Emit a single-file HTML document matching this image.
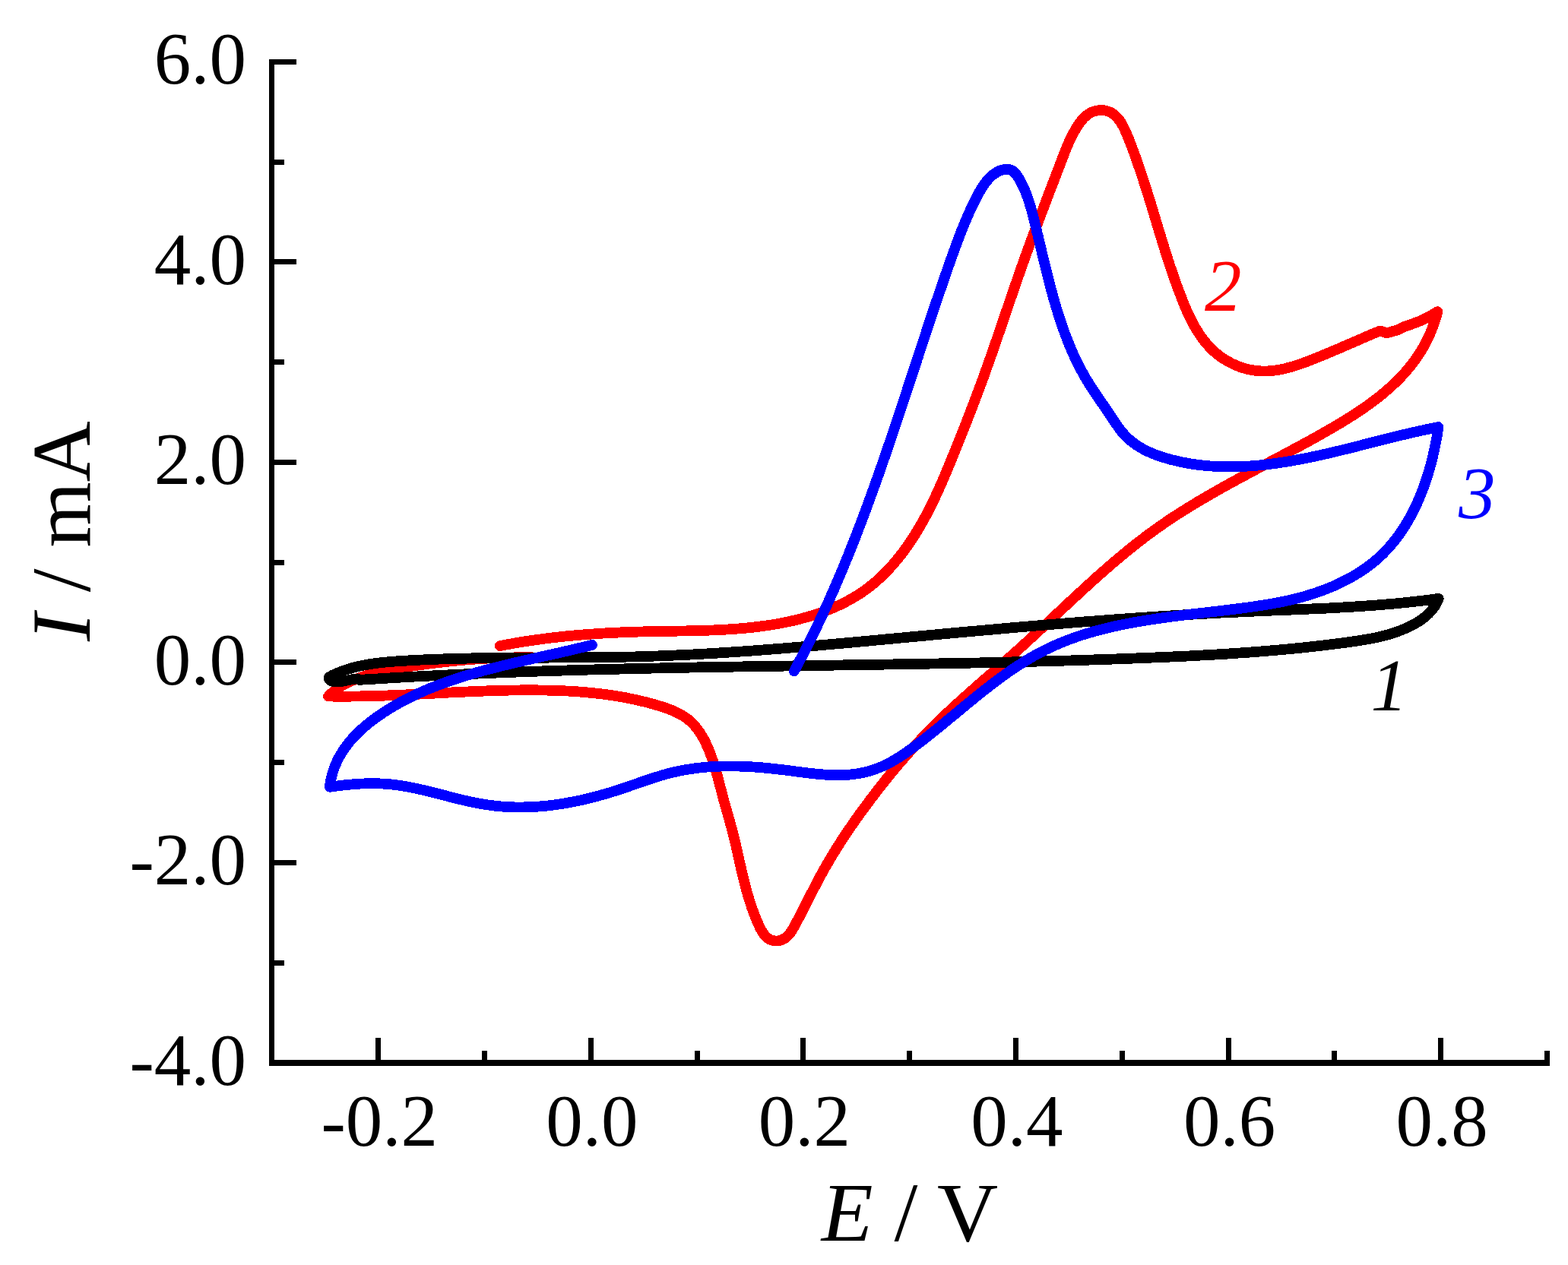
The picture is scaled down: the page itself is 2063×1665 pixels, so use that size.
<!DOCTYPE html>
<html lang="en">
<head>
<meta charset="utf-8">
<title>Cyclic voltammograms</title>
<style>
html,body{margin:0;padding:0;background:#fff;}
body{width:2063px;height:1665px;overflow:hidden;}
svg{display:block;}
text{font-family:"Liberation Serif","DejaVu Serif",serif;fill:#000;}
.tick{font-size:97px;}
.title{font-size:111px;}
.lab{font-size:97px;font-style:italic;}
.curve{fill:none;stroke-linecap:round;stroke-linejoin:round;}
</style>
</head>
<body>
<svg width="2063" height="1665" viewBox="0 0 2063 1665">
<rect x="0" y="0" width="2063" height="1665" fill="#ffffff"/>

<g class="curve" shape-rendering="crispEdges">
<path stroke="#ff0000" stroke-width="13.8" d="M657.8 850.1 C658.8 849.9 661.7 849.3 663.7 849.0 C665.7 848.6 667.7 848.2 669.6 847.9 C671.6 847.5 673.6 847.2 675.6 846.8 C677.5 846.5 679.5 846.1 681.5 845.8 C683.5 845.5 685.4 845.2 687.4 844.8 C689.4 844.5 691.4 844.2 693.4 843.9 C695.3 843.6 697.3 843.3 699.3 843.0 C701.3 842.7 703.3 842.5 705.2 842.2 C707.2 841.9 709.2 841.6 711.2 841.4 C713.2 841.1 715.2 840.8 717.1 840.6 C719.1 840.3 721.1 840.1 723.1 839.8 C725.1 839.6 727.1 839.4 729.0 839.1 C731.0 838.9 733.0 838.7 735.0 838.5 C737.0 838.3 739.0 838.0 741.0 837.8 C743.0 837.6 744.9 837.4 746.9 837.2 C748.9 837.0 750.9 836.8 752.9 836.7 C754.9 836.5 756.9 836.3 758.9 836.1 C760.9 835.9 762.8 835.8 764.8 835.6 C766.8 835.4 768.8 835.3 770.8 835.1 C772.8 835.0 774.8 834.8 776.8 834.7 C778.8 834.5 780.8 834.4 782.8 834.3 C784.8 834.1 786.8 834.0 788.8 833.9 C790.8 833.7 792.7 833.6 794.7 833.5 C796.7 833.4 798.7 833.3 800.7 833.2 C802.7 833.1 804.7 833.0 806.7 832.9 C808.7 832.8 810.7 832.7 812.7 832.6 C814.7 832.5 816.7 832.4 818.7 832.3 C820.7 832.2 822.7 832.1 824.7 832.1 C826.7 832.0 828.7 831.9 830.7 831.9 C832.7 831.8 834.7 831.7 836.7 831.7 C838.7 831.6 840.7 831.5 842.7 831.5 C844.7 831.4 846.7 831.4 848.7 831.3 C850.7 831.3 852.7 831.2 854.7 831.2 C856.7 831.2 858.7 831.1 860.7 831.1 C862.7 831.0 864.7 831.0 866.8 831.0 C868.8 830.9 870.8 830.9 872.8 830.9 C874.8 830.9 876.8 830.8 878.8 830.8 C880.8 830.8 882.8 830.7 884.8 830.7 C886.8 830.7 888.8 830.6 890.8 830.6 C892.8 830.6 894.8 830.5 896.8 830.5 C898.8 830.5 900.8 830.4 902.8 830.4 C904.8 830.4 906.8 830.3 908.8 830.3 C910.8 830.3 912.8 830.2 914.8 830.2 C916.9 830.1 918.9 830.1 920.9 830.0 C922.9 830.0 924.9 829.9 926.9 829.8 C928.9 829.8 930.9 829.7 932.9 829.6 C934.9 829.6 936.9 829.5 938.9 829.4 C940.9 829.3 942.9 829.2 944.9 829.1 C946.9 829.0 948.9 828.9 950.9 828.8 C952.9 828.7 954.9 828.6 956.9 828.5 C958.8 828.4 960.8 828.3 962.8 828.1 C964.8 828.0 966.8 827.8 968.8 827.7 C970.8 827.5 972.8 827.4 974.8 827.2 C976.8 827.0 978.8 826.9 980.8 826.7 C982.8 826.5 984.7 826.3 986.7 826.1 C988.7 825.9 990.7 825.7 992.7 825.4 C994.7 825.2 996.7 825.0 998.7 824.7 C1000.6 824.5 1002.6 824.2 1004.6 823.9 C1006.6 823.7 1008.6 823.4 1010.5 823.1 C1012.5 822.8 1014.5 822.5 1016.5 822.2 C1018.5 821.8 1020.4 821.5 1022.4 821.2 C1024.4 820.8 1026.4 820.5 1028.3 820.1 C1030.3 819.7 1032.3 819.3 1034.2 818.9 C1036.2 818.5 1038.2 818.1 1040.1 817.7 C1042.1 817.2 1044.1 816.8 1046.0 816.3 C1048.0 815.8 1049.9 815.4 1051.9 814.9 C1053.8 814.4 1055.8 813.8 1057.7 813.3 C1059.6 812.8 1061.6 812.2 1063.5 811.7 C1065.4 811.1 1067.4 810.5 1069.3 809.9 C1071.2 809.3 1073.1 808.7 1075.0 808.1 C1076.9 807.4 1078.8 806.8 1080.7 806.1 C1082.6 805.4 1084.4 804.7 1086.3 804.0 C1088.2 803.3 1090.0 802.6 1091.9 801.8 C1093.7 801.1 1095.6 800.3 1097.4 799.5 C1099.2 798.7 1101.1 797.9 1102.9 797.1 C1104.7 796.2 1106.5 795.4 1108.2 794.5 C1110.0 793.6 1111.8 792.7 1113.5 791.8 C1115.3 790.9 1117.1 789.9 1118.8 788.9 C1120.5 788.0 1122.2 787.0 1123.9 786.0 C1125.6 785.0 1127.3 783.9 1129.0 782.9 C1130.7 781.8 1132.3 780.7 1134.0 779.6 C1135.6 778.5 1137.2 777.4 1138.8 776.2 C1140.4 775.0 1142.0 773.8 1143.6 772.6 C1145.2 771.4 1146.7 770.2 1148.3 768.9 C1149.8 767.7 1151.3 766.4 1152.8 765.1 C1154.3 763.8 1155.8 762.4 1157.3 761.1 C1158.7 759.7 1160.2 758.4 1161.6 757.0 C1163.1 755.6 1164.5 754.1 1165.9 752.7 C1167.3 751.3 1168.6 749.8 1170.0 748.3 C1171.4 746.9 1172.7 745.4 1174.1 743.9 C1175.4 742.4 1176.7 740.8 1178.0 739.3 C1179.3 737.8 1180.6 736.2 1181.9 734.6 C1183.1 733.1 1184.4 731.5 1185.6 729.9 C1186.8 728.3 1188.1 726.6 1189.3 725.0 C1190.5 723.4 1191.7 721.8 1192.8 720.1 C1194.0 718.5 1195.2 716.8 1196.3 715.1 C1197.4 713.5 1198.6 711.8 1199.7 710.1 C1200.8 708.4 1201.9 706.7 1203.0 705.0 C1204.0 703.3 1205.1 701.6 1206.1 699.9 C1207.2 698.1 1208.2 696.4 1209.2 694.7 C1210.3 693.0 1211.3 691.2 1212.3 689.5 C1213.3 687.7 1214.2 686.0 1215.2 684.2 C1216.2 682.5 1217.1 680.7 1218.1 679.0 C1219.0 677.2 1219.9 675.4 1220.9 673.7 C1221.8 671.9 1222.7 670.1 1223.6 668.3 C1224.5 666.5 1225.4 664.7 1226.2 663.0 C1227.1 661.2 1228.0 659.4 1228.8 657.6 C1229.7 655.8 1230.6 654.0 1231.4 652.2 C1232.2 650.4 1233.1 648.5 1233.9 646.7 C1234.7 644.9 1235.5 643.1 1236.3 641.3 C1237.2 639.5 1238.0 637.6 1238.8 635.8 C1239.6 634.0 1240.4 632.2 1241.1 630.3 C1241.9 628.5 1242.7 626.7 1243.5 624.8 C1244.3 623.0 1245.0 621.1 1245.8 619.3 C1246.6 617.5 1247.3 615.6 1248.1 613.8 C1248.9 611.9 1249.6 610.1 1250.4 608.3 C1251.1 606.4 1251.9 604.6 1252.6 602.7 C1253.4 600.9 1254.2 599.0 1254.9 597.2 C1255.7 595.3 1256.4 593.5 1257.2 591.6 C1257.9 589.8 1258.6 587.9 1259.4 586.1 C1260.1 584.2 1260.9 582.4 1261.6 580.5 C1262.4 578.7 1263.1 576.8 1263.9 574.9 C1264.6 573.1 1265.3 571.2 1266.1 569.4 C1266.8 567.5 1267.5 565.7 1268.3 563.8 C1269.0 561.9 1269.7 560.1 1270.5 558.2 C1271.2 556.4 1271.9 554.5 1272.7 552.6 C1273.4 550.8 1274.1 548.9 1274.8 547.0 C1275.6 545.2 1276.3 543.3 1277.0 541.5 C1277.7 539.6 1278.4 537.7 1279.2 535.8 C1279.9 534.0 1280.6 532.1 1281.3 530.2 C1282.0 528.4 1282.7 526.5 1283.4 524.6 C1284.1 522.8 1284.8 520.9 1285.5 519.0 C1286.2 517.1 1286.9 515.3 1287.6 513.4 C1288.3 511.5 1289.0 509.6 1289.7 507.7 C1290.4 505.9 1291.1 504.0 1291.8 502.1 C1292.5 500.2 1293.2 498.3 1293.9 496.5 C1294.6 494.6 1295.2 492.7 1295.9 490.8 C1296.6 488.9 1297.3 487.0 1298.0 485.1 C1298.6 483.3 1299.3 481.4 1300.0 479.5 C1300.7 477.6 1301.3 475.7 1302.0 473.8 C1302.7 471.9 1303.3 470.0 1304.0 468.1 C1304.7 466.2 1305.3 464.3 1306.0 462.4 C1306.6 460.5 1307.3 458.6 1308.0 456.8 C1308.6 454.9 1309.3 453.0 1309.9 451.1 C1310.6 449.2 1311.2 447.3 1311.9 445.4 C1312.5 443.5 1313.2 441.6 1313.8 439.7 C1314.5 437.8 1315.1 435.9 1315.8 434.0 C1316.4 432.1 1317.1 430.2 1317.7 428.3 C1318.4 426.4 1319.0 424.5 1319.7 422.6 C1320.3 420.7 1321.0 418.8 1321.6 416.9 C1322.3 415.0 1322.9 413.1 1323.5 411.2 C1324.2 409.3 1324.8 407.4 1325.5 405.5 C1326.1 403.6 1326.8 401.7 1327.4 399.8 C1328.1 397.9 1328.7 396.0 1329.4 394.1 C1330.0 392.2 1330.6 390.3 1331.3 388.4 C1331.9 386.5 1332.6 384.6 1333.2 382.7 C1333.9 380.8 1334.5 378.9 1335.2 377.1 C1335.8 375.2 1336.5 373.3 1337.2 371.4 C1337.8 369.5 1338.5 367.6 1339.1 365.7 C1339.8 363.8 1340.4 361.9 1341.1 360.1 C1341.8 358.2 1342.4 356.3 1343.1 354.4 C1343.7 352.5 1344.4 350.6 1345.1 348.8 C1345.7 346.9 1346.4 345.0 1347.1 343.1 C1347.7 341.2 1348.4 339.4 1349.1 337.5 C1349.8 335.6 1350.4 333.7 1351.1 331.9 C1351.8 330.0 1352.5 328.1 1353.2 326.3 C1353.8 324.4 1354.5 322.5 1355.2 320.6 C1355.9 318.8 1356.6 316.9 1357.3 315.0 C1358.0 313.2 1358.6 311.3 1359.3 309.4 C1360.0 307.6 1360.7 305.7 1361.4 303.9 C1362.1 302.0 1362.8 300.1 1363.5 298.3 C1364.2 296.4 1364.9 294.5 1365.6 292.7 C1366.3 290.8 1367.0 289.0 1367.7 287.1 C1368.4 285.2 1369.1 283.4 1369.8 281.5 C1370.5 279.6 1371.3 277.8 1372.0 275.9 C1372.7 274.0 1373.4 272.2 1374.1 270.3 C1374.8 268.5 1375.5 266.6 1376.2 264.7 C1376.9 262.9 1377.7 261.0 1378.4 259.1 C1379.1 257.3 1379.8 255.4 1380.5 253.5 C1381.2 251.7 1381.9 249.8 1382.7 247.9 C1383.4 246.0 1384.1 244.2 1384.8 242.3 C1385.5 240.4 1386.3 238.6 1387.0 236.7 C1387.7 234.8 1388.4 232.9 1389.1 231.0 C1389.9 229.2 1390.6 227.3 1391.3 225.4 C1392.0 223.5 1392.7 221.6 1393.5 219.7 C1394.2 217.9 1394.9 216.0 1395.6 214.1 C1396.4 212.2 1397.1 210.3 1397.8 208.4 C1398.5 206.5 1399.3 204.6 1400.0 202.7 C1400.7 200.8 1401.5 198.9 1402.2 197.0 C1403.0 195.2 1403.8 193.3 1404.6 191.4 C1405.4 189.5 1406.2 187.7 1407.0 185.8 C1407.9 183.9 1408.7 182.1 1409.7 180.3 C1410.6 178.4 1411.5 176.6 1412.5 174.8 C1413.5 173.0 1414.5 171.2 1415.6 169.4 C1416.6 167.7 1417.8 165.9 1418.9 164.2 C1420.1 162.4 1421.3 160.7 1422.6 159.1 C1423.9 157.5 1425.2 155.9 1426.7 154.5 C1428.1 153.1 1429.6 151.8 1431.2 150.7 C1432.8 149.5 1434.4 148.6 1436.1 147.8 C1437.9 147.0 1439.7 146.4 1441.5 145.9 C1443.3 145.5 1445.1 145.2 1446.9 145.1 C1448.7 145.0 1450.6 145.1 1452.4 145.3 C1454.1 145.5 1455.9 145.9 1457.6 146.5 C1459.3 147.0 1460.9 147.7 1462.4 148.6 C1463.9 149.5 1465.4 150.5 1466.7 151.6 C1468.1 152.8 1469.3 154.1 1470.5 155.5 C1471.7 156.9 1472.9 158.4 1474.0 160.0 C1475.0 161.6 1476.0 163.3 1477.0 165.1 C1478.0 166.8 1478.9 168.7 1479.8 170.6 C1480.7 172.4 1481.5 174.4 1482.4 176.3 C1483.2 178.3 1484.0 180.3 1484.8 182.2 C1485.6 184.2 1486.3 186.2 1487.1 188.2 C1487.9 190.2 1488.6 192.2 1489.4 194.1 C1490.1 196.1 1490.8 198.1 1491.6 200.0 C1492.3 202.0 1493.0 204.0 1493.7 205.9 C1494.4 207.9 1495.1 209.8 1495.8 211.8 C1496.5 213.7 1497.1 215.7 1497.8 217.6 C1498.5 219.6 1499.1 221.5 1499.8 223.4 C1500.5 225.4 1501.1 227.3 1501.7 229.2 C1502.4 231.2 1503.0 233.1 1503.7 235.0 C1504.3 236.9 1504.9 238.9 1505.5 240.8 C1506.1 242.7 1506.8 244.6 1507.4 246.5 C1508.0 248.4 1508.6 250.4 1509.2 252.3 C1509.8 254.2 1510.4 256.1 1511.0 258.0 C1511.6 259.9 1512.1 261.8 1512.7 263.7 C1513.3 265.6 1513.9 267.5 1514.5 269.4 C1515.1 271.3 1515.6 273.2 1516.2 275.1 C1516.8 277.0 1517.3 278.9 1517.9 280.8 C1518.5 282.6 1519.1 284.5 1519.6 286.4 C1520.2 288.3 1520.8 290.2 1521.3 292.1 C1521.9 294.0 1522.5 295.9 1523.0 297.7 C1523.6 299.6 1524.2 301.5 1524.7 303.4 C1525.3 305.3 1525.9 307.2 1526.5 309.0 C1527.0 310.9 1527.6 312.8 1528.2 314.7 C1528.8 316.6 1529.3 318.4 1529.9 320.3 C1530.5 322.2 1531.1 324.1 1531.7 325.9 C1532.3 327.8 1532.8 329.7 1533.4 331.6 C1534.0 333.5 1534.6 335.3 1535.2 337.2 C1535.8 339.1 1536.4 341.0 1537.0 342.9 C1537.7 344.7 1538.3 346.6 1538.9 348.5 C1539.5 350.4 1540.1 352.3 1540.8 354.1 C1541.4 356.0 1542.1 357.9 1542.7 359.8 C1543.3 361.7 1544.0 363.6 1544.7 365.4 C1545.3 367.3 1546.0 369.2 1546.7 371.1 C1547.3 373.0 1548.0 374.9 1548.7 376.8 C1549.4 378.7 1550.1 380.6 1550.8 382.5 C1551.5 384.3 1552.2 386.2 1553.0 388.1 C1553.7 390.0 1554.4 391.9 1555.2 393.8 C1555.9 395.7 1556.7 397.6 1557.5 399.5 C1558.2 401.4 1559.0 403.3 1559.8 405.2 C1560.6 407.1 1561.4 408.9 1562.3 410.8 C1563.1 412.6 1564.0 414.5 1564.9 416.3 C1565.7 418.2 1566.6 420.0 1567.6 421.8 C1568.5 423.6 1569.4 425.4 1570.4 427.2 C1571.4 429.0 1572.4 430.7 1573.4 432.5 C1574.4 434.2 1575.5 435.9 1576.6 437.6 C1577.6 439.3 1578.8 440.9 1579.9 442.6 C1581.0 444.2 1582.2 445.8 1583.4 447.4 C1584.6 449.0 1585.9 450.5 1587.2 452.0 C1588.4 453.5 1589.8 455.0 1591.1 456.5 C1592.5 457.9 1593.9 459.3 1595.3 460.7 C1596.7 462.0 1598.2 463.4 1599.7 464.7 C1601.2 465.9 1602.8 467.2 1604.4 468.4 C1606.0 469.6 1607.7 470.7 1609.3 471.8 C1611.0 473.0 1612.7 474.0 1614.5 475.0 C1616.2 476.0 1618.0 477.0 1619.8 477.9 C1621.6 478.8 1623.4 479.7 1625.3 480.5 C1627.1 481.3 1629.0 482.0 1630.9 482.7 C1632.8 483.4 1634.7 484.0 1636.6 484.6 C1638.6 485.2 1640.5 485.7 1642.5 486.2 C1644.4 486.6 1646.4 487.0 1648.3 487.3 C1650.3 487.7 1652.3 487.9 1654.2 488.1 C1656.2 488.3 1658.2 488.4 1660.1 488.5 C1662.1 488.6 1664.1 488.6 1666.0 488.5 C1668.0 488.5 1670.0 488.3 1671.9 488.2 C1673.9 488.0 1675.8 487.8 1677.8 487.5 C1679.7 487.3 1681.7 486.9 1683.6 486.6 C1685.6 486.2 1687.5 485.8 1689.5 485.4 C1691.4 484.9 1693.4 484.4 1695.3 483.9 C1697.2 483.4 1699.2 482.8 1701.1 482.3 C1703.0 481.7 1705.0 481.1 1706.9 480.4 C1708.8 479.8 1710.7 479.1 1712.6 478.5 C1714.5 477.8 1716.4 477.1 1718.3 476.4 C1720.2 475.7 1722.1 474.9 1724.0 474.2 C1725.9 473.5 1727.8 472.7 1729.6 472.0 C1731.5 471.2 1733.4 470.5 1735.2 469.7 C1737.1 469.0 1739.0 468.2 1740.8 467.4 C1742.7 466.7 1744.5 465.9 1746.3 465.2 C1748.2 464.4 1750.0 463.6 1751.8 462.8 C1753.7 462.1 1755.5 461.3 1757.3 460.5 C1759.2 459.7 1761.0 459.0 1762.8 458.2 C1764.6 457.4 1766.5 456.6 1768.3 455.8 C1770.1 455.0 1771.9 454.3 1773.7 453.5 C1775.6 452.7 1777.4 451.9 1779.2 451.1 C1781.0 450.3 1782.9 449.5 1784.7 448.7 C1786.5 447.9 1788.3 447.1 1790.2 446.3 C1792.0 445.5 1793.8 444.7 1795.7 443.9 C1797.5 443.1 1799.4 442.3 1801.2 441.5 C1803.1 440.7 1805.9 439.5 1806.8 439.1 C1808.3 438.5 1814.2 436.1 1815.7 435.5 C1817.2 436.0 1823.0 437.8 1824.5 438.3 C1827.1 437.6 1837.4 434.7 1840.0 434.0 C1841.0 433.4 1840.8 432.8 1846.0 430.7 C1851.2 428.6 1863.6 424.7 1871.2 421.3 C1878.8 417.9 1888.0 412.1 1891.4 410.2 C1891.1 411.2 1890.3 414.4 1889.7 416.4 C1889.1 418.5 1888.5 420.5 1887.9 422.5 C1887.2 424.5 1886.5 426.5 1885.8 428.4 C1885.1 430.4 1884.4 432.3 1883.6 434.2 C1882.9 436.1 1882.1 438.0 1881.2 439.9 C1880.4 441.8 1879.6 443.6 1878.7 445.4 C1877.8 447.2 1876.9 449.0 1876.0 450.8 C1875.1 452.6 1874.1 454.3 1873.1 456.1 C1872.2 457.8 1871.2 459.5 1870.1 461.2 C1869.1 462.9 1868.1 464.5 1867.0 466.2 C1865.9 467.8 1864.8 469.5 1863.7 471.1 C1862.6 472.7 1861.4 474.3 1860.3 475.9 C1859.1 477.4 1857.9 479.0 1856.7 480.5 C1855.5 482.1 1854.3 483.6 1853.0 485.1 C1851.8 486.6 1850.5 488.1 1849.2 489.5 C1847.9 491.0 1846.6 492.4 1845.3 493.9 C1844.0 495.3 1842.6 496.7 1841.3 498.1 C1839.9 499.5 1838.5 500.9 1837.1 502.3 C1835.7 503.7 1834.3 505.0 1832.9 506.3 C1831.5 507.7 1830.0 509.0 1828.6 510.3 C1827.1 511.6 1825.6 512.9 1824.1 514.2 C1822.6 515.5 1821.1 516.8 1819.6 518.0 C1818.1 519.3 1816.6 520.5 1815.0 521.8 C1813.5 523.0 1811.9 524.2 1810.3 525.4 C1808.8 526.6 1807.2 527.8 1805.6 529.0 C1804.0 530.2 1802.4 531.4 1800.8 532.6 C1799.1 533.7 1797.5 534.9 1795.9 536.0 C1794.2 537.2 1792.6 538.3 1790.9 539.4 C1789.3 540.5 1787.6 541.7 1785.9 542.8 C1784.3 543.9 1782.6 545.0 1780.9 546.1 C1779.2 547.1 1777.5 548.2 1775.8 549.3 C1774.1 550.4 1772.4 551.4 1770.7 552.5 C1769.0 553.6 1767.2 554.6 1765.5 555.7 C1763.8 556.7 1762.0 557.7 1760.3 558.8 C1758.6 559.8 1756.8 560.8 1755.1 561.9 C1753.3 562.9 1751.6 563.9 1749.8 564.9 C1748.1 565.9 1746.3 566.9 1744.6 567.9 C1742.8 568.9 1741.1 569.9 1739.3 570.9 C1737.6 571.9 1735.8 572.9 1734.1 573.9 C1732.3 574.9 1730.5 575.9 1728.8 576.8 C1727.0 577.8 1725.2 578.8 1723.5 579.8 C1721.7 580.7 1719.9 581.7 1718.2 582.7 C1716.4 583.6 1714.6 584.6 1712.9 585.6 C1711.1 586.5 1709.3 587.5 1707.6 588.5 C1705.8 589.4 1704.0 590.4 1702.3 591.3 C1700.5 592.3 1698.7 593.2 1696.9 594.2 C1695.2 595.1 1693.4 596.1 1691.6 597.0 C1689.9 598.0 1688.1 598.9 1686.3 599.9 C1684.5 600.8 1682.8 601.7 1681.0 602.7 C1679.2 603.6 1677.5 604.6 1675.7 605.5 C1673.9 606.5 1672.1 607.4 1670.4 608.3 C1668.6 609.3 1666.8 610.2 1665.1 611.2 C1663.3 612.1 1661.5 613.0 1659.8 614.0 C1658.0 614.9 1656.2 615.9 1654.4 616.8 C1652.7 617.7 1650.9 618.7 1649.1 619.6 C1647.4 620.6 1645.6 621.5 1643.9 622.4 C1642.1 623.4 1640.3 624.3 1638.6 625.3 C1636.8 626.2 1635.1 627.2 1633.3 628.1 C1631.5 629.1 1629.8 630.0 1628.0 631.0 C1626.3 631.9 1624.5 632.9 1622.8 633.8 C1621.0 634.8 1619.3 635.8 1617.5 636.7 C1615.8 637.7 1614.0 638.6 1612.3 639.6 C1610.6 640.6 1608.8 641.6 1607.1 642.5 C1605.3 643.5 1603.6 644.5 1601.9 645.5 C1600.1 646.4 1598.4 647.4 1596.7 648.4 C1594.9 649.4 1593.2 650.4 1591.5 651.4 C1589.8 652.4 1588.1 653.4 1586.3 654.4 C1584.6 655.4 1582.9 656.4 1581.2 657.4 C1579.5 658.4 1577.8 659.4 1576.1 660.4 C1574.4 661.4 1572.7 662.5 1571.0 663.5 C1569.3 664.5 1567.6 665.6 1565.9 666.6 C1564.2 667.6 1562.5 668.7 1560.8 669.7 C1559.1 670.8 1557.4 671.8 1555.8 672.9 C1554.1 673.9 1552.4 675.0 1550.7 676.1 C1549.1 677.2 1547.4 678.2 1545.7 679.3 C1544.1 680.4 1542.4 681.5 1540.8 682.6 C1539.1 683.7 1537.5 684.8 1535.8 685.9 C1534.2 687.0 1532.5 688.1 1530.9 689.3 C1529.3 690.4 1527.6 691.5 1526.0 692.7 C1524.4 693.8 1522.8 695.0 1521.2 696.1 C1519.5 697.3 1517.9 698.4 1516.3 699.6 C1514.7 700.8 1513.1 701.9 1511.5 703.1 C1509.9 704.3 1508.3 705.5 1506.7 706.7 C1505.1 707.9 1503.6 709.1 1502.0 710.3 C1500.4 711.5 1498.8 712.8 1497.2 714.0 C1495.7 715.2 1494.1 716.4 1492.5 717.7 C1491.0 718.9 1489.4 720.2 1487.9 721.4 C1486.3 722.7 1484.8 723.9 1483.2 725.2 C1481.7 726.5 1480.1 727.7 1478.6 729.0 C1477.0 730.3 1475.5 731.5 1474.0 732.8 C1472.4 734.1 1470.9 735.4 1469.4 736.7 C1467.8 738.0 1466.3 739.3 1464.8 740.6 C1463.3 741.9 1461.7 743.2 1460.2 744.5 C1458.7 745.8 1457.2 747.1 1455.7 748.5 C1454.2 749.8 1452.7 751.1 1451.2 752.4 C1449.6 753.8 1448.1 755.1 1446.6 756.4 C1445.1 757.8 1443.6 759.1 1442.1 760.4 C1440.6 761.8 1439.1 763.1 1437.7 764.5 C1436.2 765.8 1434.7 767.2 1433.2 768.5 C1431.7 769.9 1430.2 771.2 1428.7 772.6 C1427.2 774.0 1425.7 775.3 1424.3 776.7 C1422.8 778.0 1421.3 779.4 1419.8 780.8 C1418.3 782.1 1416.9 783.5 1415.4 784.9 C1413.9 786.3 1412.4 787.6 1410.9 789.0 C1409.5 790.4 1408.0 791.7 1406.5 793.1 C1405.0 794.5 1403.6 795.9 1402.1 797.3 C1400.6 798.6 1399.2 800.0 1397.7 801.4 C1396.2 802.8 1394.7 804.1 1393.3 805.5 C1391.8 806.9 1390.3 808.3 1388.9 809.7 C1387.4 811.0 1385.9 812.4 1384.4 813.8 C1383.0 815.2 1381.5 816.6 1380.0 817.9 C1378.6 819.3 1377.1 820.7 1375.6 822.1 C1374.1 823.4 1372.7 824.8 1371.2 826.2 C1369.7 827.6 1368.3 828.9 1366.8 830.3 C1365.3 831.7 1363.8 833.0 1362.4 834.4 C1360.9 835.8 1359.4 837.1 1357.9 838.5 C1356.4 839.9 1355.0 841.2 1353.5 842.6 C1352.0 844.0 1350.5 845.3 1349.0 846.7 C1347.6 848.0 1346.1 849.4 1344.6 850.7 C1343.1 852.1 1341.6 853.4 1340.1 854.8 C1338.6 856.1 1337.2 857.5 1335.7 858.8 C1334.2 860.1 1332.7 861.5 1331.2 862.8 C1329.7 864.1 1328.2 865.5 1326.7 866.8 C1325.2 868.1 1323.7 869.4 1322.2 870.8 C1320.7 872.1 1319.2 873.4 1317.7 874.7 C1316.2 876.0 1314.7 877.4 1313.2 878.7 C1311.7 880.0 1310.2 881.3 1308.7 882.6 C1307.2 883.9 1305.7 885.2 1304.2 886.6 C1302.7 887.9 1301.2 889.2 1299.7 890.5 C1298.2 891.8 1296.7 893.1 1295.2 894.4 C1293.7 895.7 1292.2 897.1 1290.7 898.4 C1289.2 899.7 1287.7 901.0 1286.2 902.3 C1284.7 903.6 1283.2 904.9 1281.7 906.3 C1280.2 907.6 1278.7 908.9 1277.3 910.2 C1275.8 911.5 1274.3 912.9 1272.8 914.2 C1271.3 915.5 1269.8 916.8 1268.4 918.2 C1266.9 919.5 1265.4 920.8 1263.9 922.2 C1262.5 923.5 1261.0 924.8 1259.5 926.2 C1258.0 927.5 1256.6 928.9 1255.1 930.2 C1253.7 931.6 1252.2 932.9 1250.8 934.3 C1249.3 935.6 1247.8 937.0 1246.4 938.3 C1245.0 939.7 1243.5 941.1 1242.1 942.5 C1240.6 943.8 1239.2 945.2 1237.8 946.6 C1236.3 948.0 1234.9 949.4 1233.5 950.8 C1232.1 952.1 1230.7 953.5 1229.3 955.0 C1227.8 956.4 1226.4 957.8 1225.0 959.2 C1223.6 960.6 1222.2 962.0 1220.9 963.5 C1219.5 964.9 1218.1 966.3 1216.7 967.8 C1215.3 969.2 1214.0 970.7 1212.6 972.1 C1211.2 973.6 1209.8 975.0 1208.5 976.5 C1207.1 977.9 1205.8 979.4 1204.4 980.9 C1203.1 982.4 1201.7 983.8 1200.4 985.3 C1199.0 986.8 1197.7 988.3 1196.4 989.8 C1195.1 991.3 1193.7 992.8 1192.4 994.3 C1191.1 995.8 1189.8 997.3 1188.5 998.8 C1187.1 1000.3 1185.8 1001.8 1184.5 1003.4 C1183.2 1004.9 1181.9 1006.4 1180.6 1007.9 C1179.3 1009.5 1178.1 1011.0 1176.8 1012.5 C1175.5 1014.1 1174.2 1015.6 1172.9 1017.2 C1171.7 1018.7 1170.4 1020.3 1169.1 1021.8 C1167.9 1023.4 1166.6 1025.0 1165.3 1026.5 C1164.1 1028.1 1162.8 1029.7 1161.6 1031.2 C1160.3 1032.8 1159.1 1034.4 1157.8 1036.0 C1156.6 1037.6 1155.4 1039.1 1154.1 1040.7 C1152.9 1042.3 1151.7 1043.9 1150.5 1045.5 C1149.2 1047.1 1148.0 1048.7 1146.8 1050.3 C1145.6 1051.9 1144.4 1053.5 1143.2 1055.1 C1142.0 1056.7 1140.8 1058.3 1139.6 1060.0 C1138.4 1061.6 1137.2 1063.2 1136.0 1064.8 C1134.8 1066.4 1133.6 1068.1 1132.4 1069.7 C1131.3 1071.3 1130.1 1073.0 1128.9 1074.6 C1127.7 1076.2 1126.6 1077.9 1125.4 1079.5 C1124.3 1081.2 1123.1 1082.8 1122.0 1084.5 C1120.8 1086.1 1119.7 1087.8 1118.5 1089.4 C1117.4 1091.1 1116.3 1092.7 1115.2 1094.4 C1114.0 1096.0 1112.9 1097.7 1111.8 1099.4 C1110.7 1101.0 1109.6 1102.7 1108.5 1104.4 C1107.4 1106.1 1106.3 1107.7 1105.3 1109.4 C1104.2 1111.1 1103.1 1112.8 1102.0 1114.5 C1101.0 1116.2 1099.9 1117.8 1098.9 1119.5 C1097.8 1121.2 1096.8 1122.9 1095.7 1124.6 C1094.7 1126.3 1093.7 1128.0 1092.7 1129.7 C1091.7 1131.4 1090.7 1133.1 1089.7 1134.8 C1088.7 1136.6 1087.7 1138.3 1086.7 1140.0 C1085.7 1141.7 1084.8 1143.4 1083.8 1145.1 C1082.8 1146.9 1081.9 1148.6 1080.9 1150.3 C1080.0 1152.0 1079.1 1153.8 1078.1 1155.5 C1077.2 1157.2 1076.3 1159.0 1075.4 1160.7 C1074.5 1162.5 1073.5 1164.2 1072.6 1166.0 C1071.7 1167.7 1070.8 1169.5 1069.9 1171.2 C1069.0 1173.0 1068.1 1174.8 1067.2 1176.5 C1066.3 1178.3 1065.4 1180.1 1064.5 1181.9 C1063.6 1183.7 1062.7 1185.5 1061.8 1187.3 C1060.8 1189.1 1059.9 1190.9 1059.0 1192.7 C1058.1 1194.5 1057.1 1196.3 1056.2 1198.1 C1055.3 1200.0 1054.3 1201.8 1053.4 1203.6 C1052.4 1205.5 1051.4 1207.3 1050.4 1209.2 C1049.5 1211.0 1048.5 1212.9 1047.5 1214.8 C1046.5 1216.6 1045.5 1218.6 1044.4 1220.4 C1043.4 1222.2 1042.3 1224.1 1041.1 1225.8 C1040.0 1227.5 1038.8 1229.1 1037.5 1230.6 C1036.2 1232.0 1034.9 1233.4 1033.4 1234.5 C1031.9 1235.6 1030.3 1236.5 1028.6 1237.1 C1026.9 1237.8 1025.1 1238.2 1023.3 1238.4 C1021.5 1238.5 1019.6 1238.5 1017.9 1238.1 C1016.1 1237.8 1014.3 1237.2 1012.7 1236.4 C1011.1 1235.6 1009.6 1234.5 1008.3 1233.3 C1006.9 1232.0 1005.7 1230.5 1004.5 1228.9 C1003.4 1227.3 1002.3 1225.5 1001.3 1223.7 C1000.3 1221.9 999.4 1220.0 998.5 1218.0 C997.6 1216.1 996.8 1214.2 996.0 1212.2 C995.1 1210.3 994.3 1208.3 993.6 1206.4 C992.8 1204.5 992.1 1202.5 991.3 1200.6 C990.6 1198.7 989.9 1196.7 989.2 1194.8 C988.6 1192.9 987.9 1190.9 987.3 1189.0 C986.7 1187.1 986.1 1185.2 985.5 1183.2 C984.9 1181.3 984.3 1179.4 983.7 1177.5 C983.2 1175.5 982.6 1173.6 982.1 1171.7 C981.6 1169.8 981.1 1167.9 980.6 1165.9 C980.1 1164.0 979.6 1162.1 979.1 1160.2 C978.6 1158.3 978.2 1156.3 977.7 1154.4 C977.2 1152.5 976.8 1150.6 976.3 1148.7 C975.9 1146.7 975.4 1144.8 975.0 1142.9 C974.6 1141.0 974.1 1139.0 973.7 1137.1 C973.3 1135.2 972.8 1133.3 972.4 1131.3 C972.0 1129.4 971.6 1127.5 971.1 1125.6 C970.7 1123.6 970.3 1121.7 969.8 1119.8 C969.4 1117.8 969.0 1115.9 968.5 1114.0 C968.1 1112.0 967.6 1110.1 967.2 1108.2 C966.7 1106.2 966.2 1104.3 965.7 1102.3 C965.3 1100.4 964.8 1098.4 964.3 1096.5 C963.8 1094.5 963.3 1092.6 962.7 1090.6 C962.2 1088.7 961.7 1086.7 961.1 1084.8 C960.6 1082.8 960.1 1080.8 959.5 1078.9 C959.0 1076.9 958.4 1075.0 957.8 1073.0 C957.3 1071.1 956.7 1069.1 956.2 1067.1 C955.6 1065.2 955.1 1063.2 954.5 1061.3 C954.0 1059.4 953.4 1057.4 952.9 1055.5 C952.4 1053.5 951.8 1051.6 951.3 1049.7 C950.8 1047.8 950.3 1045.9 949.8 1043.9 C949.3 1042.0 948.8 1040.1 948.3 1038.2 C947.8 1036.3 947.3 1034.4 946.8 1032.5 C946.3 1030.6 945.8 1028.7 945.3 1026.8 C944.8 1024.9 944.3 1023.0 943.8 1021.1 C943.3 1019.2 942.8 1017.4 942.2 1015.5 C941.7 1013.6 941.1 1011.7 940.5 1009.8 C940.0 1007.8 939.4 1005.9 938.8 1004.0 C938.1 1002.1 937.5 1000.2 936.8 998.3 C936.2 996.4 935.5 994.4 934.7 992.5 C934.0 990.6 933.3 988.7 932.5 986.8 C931.7 984.9 930.9 983.0 930.0 981.1 C929.2 979.3 928.3 977.4 927.4 975.6 C926.5 973.8 925.5 972.0 924.5 970.2 C923.5 968.5 922.4 966.7 921.3 965.1 C920.2 963.4 919.1 961.7 917.9 960.1 C916.7 958.6 915.5 957.0 914.2 955.5 C912.9 954.0 911.6 952.6 910.2 951.2 C908.8 949.9 907.3 948.6 905.8 947.3 C904.3 946.1 902.8 945.0 901.1 943.9 C899.5 942.8 897.9 941.7 896.2 940.8 C894.5 939.8 892.7 938.9 890.9 938.0 C889.1 937.1 887.3 936.3 885.5 935.5 C883.6 934.7 881.7 934.0 879.8 933.3 C877.9 932.6 876.0 931.9 874.1 931.3 C872.2 930.6 870.2 930.0 868.3 929.4 C866.3 928.8 864.4 928.2 862.4 927.6 C860.5 927.1 858.5 926.5 856.6 926.0 C854.6 925.5 852.7 924.9 850.7 924.4 C848.8 923.9 846.8 923.4 844.9 923.0 C842.9 922.5 840.9 922.0 839.0 921.6 C837.0 921.1 835.0 920.7 833.1 920.3 C831.1 919.9 829.1 919.5 827.2 919.1 C825.2 918.7 823.2 918.3 821.3 917.9 C819.3 917.6 817.3 917.2 815.3 916.9 C813.4 916.5 811.4 916.2 809.4 915.9 C807.4 915.6 805.5 915.3 803.5 915.0 C801.5 914.7 799.5 914.4 797.5 914.2 C795.5 913.9 793.6 913.6 791.6 913.4 C789.6 913.1 787.6 912.9 785.6 912.7 C783.6 912.5 781.6 912.3 779.7 912.1 C777.7 911.9 775.7 911.7 773.7 911.5 C771.7 911.3 769.7 911.1 767.7 911.0 C765.7 910.8 763.7 910.6 761.7 910.5 C759.7 910.3 757.7 910.2 755.8 910.1 C753.8 910.0 751.8 909.8 749.8 909.7 C747.8 909.6 745.8 909.5 743.8 909.4 C741.8 909.3 739.8 909.2 737.8 909.1 C735.8 909.1 733.8 909.0 731.8 908.9 C729.8 908.8 727.8 908.8 725.8 908.7 C723.8 908.7 721.8 908.6 719.8 908.6 C717.8 908.5 715.8 908.5 713.8 908.5 C711.8 908.4 709.8 908.4 707.8 908.4 C705.8 908.4 703.8 908.3 701.8 908.3 C699.8 908.3 697.8 908.3 695.8 908.3 C693.9 908.3 691.9 908.3 689.9 908.3 C687.9 908.3 685.9 908.4 683.9 908.4 C681.9 908.4 679.9 908.4 677.9 908.4 C675.9 908.5 673.9 908.5 671.9 908.5 C669.9 908.6 667.9 908.6 665.9 908.7 C663.9 908.7 661.9 908.7 659.9 908.8 C657.9 908.9 655.9 908.9 653.9 909.0 C651.9 909.0 649.9 909.1 647.9 909.1 C645.9 909.2 643.9 909.3 641.9 909.3 C639.9 909.4 637.9 909.5 635.9 909.6 C633.9 909.6 631.9 909.7 629.9 909.8 C627.9 909.9 625.9 910.0 623.9 910.0 C621.9 910.1 619.9 910.2 617.9 910.3 C615.9 910.4 613.9 910.5 611.9 910.6 C609.9 910.7 607.9 910.8 605.9 910.9 C603.9 911.0 601.9 911.1 599.9 911.1 C597.9 911.2 595.9 911.3 593.9 911.4 C591.9 911.5 589.9 911.6 587.9 911.7 C585.9 911.8 583.9 911.9 581.9 912.0 C579.9 912.1 577.9 912.3 575.9 912.4 C573.9 912.5 571.9 912.6 569.9 912.7 C567.9 912.8 565.9 912.9 563.9 913.0 C561.9 913.1 559.9 913.2 557.9 913.3 C555.9 913.4 553.9 913.5 551.9 913.6 C549.9 913.7 547.9 913.8 545.9 913.9 C543.9 914.0 541.9 914.1 539.9 914.1 C537.9 914.2 535.9 914.3 533.9 914.4 C531.9 914.5 529.9 914.6 527.9 914.7 C525.9 914.8 523.9 914.9 521.9 915.0 C519.9 915.0 517.9 915.1 515.9 915.2 C513.9 915.3 511.9 915.4 509.9 915.4 C507.9 915.5 505.9 915.6 503.9 915.7 C501.9 915.7 499.9 915.8 497.9 915.9 C495.9 915.9 493.9 916.0 491.9 916.0 C489.9 916.1 487.9 916.1 485.9 916.2 C483.9 916.2 481.9 916.3 479.9 916.3 C477.9 916.4 475.9 916.4 473.9 916.4 C471.9 916.5 469.9 916.5 467.9 916.5 C465.9 916.6 463.9 916.6 461.9 916.6 C460.0 916.6 458.0 916.6 456.0 916.6 C454.0 916.7 452.0 916.7 450.0 916.7 C448.0 916.7 446.0 916.6 444.0 916.6 C442.0 916.6 440.0 916.6 438.0 916.6 C436.0 916.6 433.0 916.5 432.0 916.5 C432.7 915.8 434.9 913.6 436.4 912.3 C437.8 910.9 439.4 909.7 441.0 908.5 C442.5 907.3 444.2 906.2 445.8 905.1 C447.5 904.0 449.1 903.0 450.9 902.0 C452.6 901.0 454.3 900.1 456.1 899.2 C457.9 898.3 459.6 897.5 461.5 896.7 C463.3 895.9 465.1 895.1 466.9 894.3 C468.8 893.6 470.7 892.9 472.5 892.2 C474.4 891.5 476.3 890.9 478.2 890.3 C480.1 889.6 482.0 889.0 484.0 888.5 C485.9 887.9 487.8 887.3 489.8 886.8 C491.7 886.3 493.7 885.8 495.7 885.3 C497.6 884.8 499.6 884.4 501.6 883.9 C503.6 883.5 505.6 883.1 507.6 882.6 C509.6 882.2 511.6 881.8 513.6 881.5 C515.6 881.1 517.6 880.7 519.6 880.4 C521.6 880.0 523.6 879.7 525.6 879.3 C527.7 879.0 529.7 878.7 531.7 878.3 C533.7 878.0 535.7 877.7 537.7 877.4 C539.7 877.1 541.7 876.8 543.7 876.5 C545.8 876.2 547.8 875.9 549.8 875.6 C551.8 875.4 553.8 875.1 555.8 874.8 C557.8 874.5 559.8 874.3 561.8 874.0 C563.8 873.7 565.8 873.5 567.8 873.2 C569.8 873.0 571.7 872.7 573.7 872.5 C575.7 872.2 577.7 872.0 579.7 871.8 C581.7 871.6 583.7 871.3 585.7 871.1 C587.7 870.9 589.7 870.7 591.7 870.5 C593.7 870.3 595.6 870.1 597.6 869.9 C599.6 869.7 601.6 869.5 603.6 869.3 C605.6 869.1 607.6 869.0 609.6 868.8 C611.6 868.6 613.6 868.5 615.5 868.3 C617.5 868.1 619.5 868.0 621.5 867.8 C623.5 867.7 625.5 867.6 627.5 867.4 C629.5 867.3 631.5 867.2 633.5 867.0 C635.5 866.9 637.5 866.8 639.5 866.7 C641.5 866.6 643.5 866.5 645.5 866.4 C647.5 866.3 649.5 866.2 651.5 866.1 C653.5 866.0 655.5 865.9 657.5 865.9 C659.5 865.8 661.5 865.7 663.5 865.7 C665.5 865.6 667.5 865.6 669.6 865.5 C671.6 865.5 673.6 865.4 675.6 865.4 C677.6 865.4 679.7 865.3 681.7 865.3 C683.7 865.3 685.7 865.3 687.8 865.3 C689.8 865.3 691.8 865.3 693.9 865.3 C695.9 865.3 699.0 865.3 700.0 865.3"/>
<path stroke="#000000" stroke-width="13.8" d="M473.0 894.9 C472.6 894.7 471.9 893.6 470.5 893.4 C469.1 893.3 467.0 893.6 464.8 894.0 C462.6 894.3 459.9 895.0 457.2 895.5 C454.6 896.0 451.6 896.7 448.9 897.0 C446.2 897.4 443.4 897.7 441.1 897.5 C438.8 897.3 436.4 896.8 435.0 895.9 C433.6 895.1 432.3 893.4 432.5 892.3 C432.7 891.2 434.7 890.3 436.2 889.4 C437.6 888.5 439.6 887.7 441.4 886.9 C443.1 886.1 444.9 885.4 446.7 884.7 C448.5 883.9 450.3 883.3 452.1 882.6 C453.9 882.0 455.8 881.4 457.6 880.8 C459.5 880.2 461.4 879.7 463.2 879.2 C465.1 878.6 467.0 878.2 468.9 877.7 C470.8 877.2 472.7 876.8 474.7 876.4 C476.6 876.0 478.5 875.6 480.5 875.2 C482.4 874.9 484.4 874.5 486.3 874.2 C488.3 873.9 490.3 873.6 492.3 873.3 C494.2 873.1 496.2 872.8 498.2 872.6 C500.2 872.3 502.2 872.1 504.2 871.9 C506.2 871.7 508.3 871.5 510.3 871.3 C512.3 871.1 514.3 870.9 516.3 870.8 C518.4 870.6 520.4 870.5 522.4 870.3 C524.4 870.2 526.5 870.1 528.5 869.9 C530.5 869.8 532.6 869.7 534.6 869.6 C536.6 869.4 538.7 869.3 540.7 869.2 C542.7 869.1 544.7 869.0 546.8 868.9 C548.8 868.8 550.8 868.7 552.9 868.6 C554.9 868.5 556.9 868.4 558.9 868.3 C561.0 868.2 563.0 868.1 565.0 868.1 C567.0 868.0 569.1 867.9 571.1 867.8 C573.1 867.7 575.1 867.7 577.2 867.6 C579.2 867.5 581.2 867.4 583.2 867.4 C585.2 867.3 587.3 867.2 589.3 867.2 C591.3 867.1 593.3 867.1 595.4 867.0 C597.4 867.0 599.4 866.9 601.4 866.8 C603.4 866.8 605.4 866.7 607.5 866.7 C609.5 866.6 611.5 866.6 613.5 866.6 C615.5 866.5 617.5 866.5 619.6 866.4 C621.6 866.4 623.6 866.4 625.6 866.3 C627.6 866.3 629.6 866.3 631.7 866.2 C633.7 866.2 635.7 866.2 637.7 866.1 C639.7 866.1 641.7 866.1 643.7 866.1 C645.7 866.0 647.8 866.0 649.8 866.0 C651.8 866.0 653.8 865.9 655.8 865.9 C657.8 865.9 659.8 865.9 661.8 865.9 C663.8 865.8 665.9 865.8 667.9 865.8 C669.9 865.8 671.9 865.8 673.9 865.8 C675.9 865.8 677.9 865.7 679.9 865.7 C681.9 865.7 683.9 865.7 685.9 865.7 C687.9 865.7 690.0 865.7 692.0 865.7 C694.0 865.7 696.0 865.7 698.0 865.6 C700.0 865.6 702.0 865.6 704.0 865.6 C706.0 865.6 708.0 865.6 710.0 865.6 C712.0 865.6 714.0 865.6 716.0 865.6 C718.0 865.6 720.0 865.6 722.0 865.6 C724.0 865.6 726.1 865.5 728.1 865.5 C730.1 865.5 732.1 865.5 734.1 865.5 C736.1 865.5 738.1 865.5 740.1 865.5 C742.1 865.5 744.1 865.5 746.1 865.5 C748.1 865.5 750.1 865.5 752.1 865.4 C754.1 865.4 756.1 865.4 758.1 865.4 C760.1 865.4 762.1 865.4 764.1 865.4 C766.1 865.4 768.1 865.4 770.1 865.3 C772.1 865.3 774.1 865.3 776.1 865.3 C778.1 865.3 780.1 865.3 782.1 865.2 C784.1 865.2 786.1 865.2 788.1 865.2 C790.1 865.2 792.1 865.1 794.1 865.1 C796.1 865.1 798.1 865.1 800.1 865.0 C802.1 865.0 804.1 865.0 806.1 865.0 C808.1 864.9 810.1 864.9 812.1 864.9 C814.1 864.8 816.1 864.8 818.1 864.7 C820.1 864.7 822.1 864.7 824.1 864.6 C826.1 864.6 828.1 864.5 830.1 864.5 C832.1 864.4 834.1 864.4 836.1 864.4 C838.1 864.3 840.1 864.2 842.1 864.2 C844.1 864.1 846.1 864.1 848.1 864.0 C850.1 864.0 852.2 863.9 854.2 863.8 C856.2 863.8 858.2 863.7 860.2 863.6 C862.2 863.6 864.2 863.5 866.2 863.4 C868.2 863.3 870.2 863.3 872.2 863.2 C874.2 863.1 876.2 863.0 878.2 863.0 C880.2 862.9 882.2 862.8 884.2 862.7 C886.2 862.6 888.2 862.5 890.2 862.4 C892.2 862.4 894.2 862.3 896.2 862.2 C898.2 862.1 900.2 862.0 902.2 861.9 C904.2 861.8 906.2 861.7 908.2 861.6 C910.2 861.5 912.2 861.4 914.2 861.3 C916.2 861.2 918.2 861.1 920.2 860.9 C922.2 860.8 924.2 860.7 926.2 860.6 C928.2 860.5 930.2 860.4 932.2 860.3 C934.2 860.2 936.2 860.0 938.2 859.9 C940.2 859.8 942.2 859.7 944.2 859.6 C946.2 859.4 948.2 859.3 950.2 859.2 C952.2 859.1 954.2 858.9 956.2 858.8 C958.2 858.7 960.2 858.5 962.2 858.4 C964.2 858.3 966.2 858.1 968.2 858.0 C970.2 857.9 972.2 857.7 974.2 857.6 C976.2 857.5 978.3 857.3 980.3 857.2 C982.3 857.0 984.3 856.9 986.3 856.8 C988.3 856.6 990.3 856.5 992.3 856.3 C994.3 856.2 996.3 856.0 998.3 855.9 C1000.3 855.7 1002.3 855.6 1004.3 855.4 C1006.3 855.3 1008.3 855.1 1010.3 855.0 C1012.3 854.8 1014.3 854.7 1016.3 854.5 C1018.3 854.4 1020.3 854.2 1022.3 854.0 C1024.3 853.9 1026.3 853.7 1028.3 853.6 C1030.3 853.4 1032.3 853.2 1034.3 853.1 C1036.3 852.9 1038.3 852.7 1040.3 852.6 C1042.3 852.4 1044.3 852.3 1046.3 852.1 C1048.3 851.9 1050.3 851.8 1052.3 851.6 C1054.3 851.4 1056.3 851.2 1058.3 851.1 C1060.3 850.9 1062.3 850.7 1064.3 850.6 C1066.3 850.4 1068.3 850.2 1070.3 850.1 C1072.3 849.9 1074.3 849.7 1076.3 849.5 C1078.3 849.4 1080.3 849.2 1082.3 849.0 C1084.3 848.8 1086.4 848.7 1088.4 848.5 C1090.4 848.3 1092.4 848.1 1094.4 847.9 C1096.4 847.8 1098.4 847.6 1100.4 847.4 C1102.4 847.2 1104.4 847.0 1106.4 846.9 C1108.4 846.7 1110.4 846.5 1112.4 846.3 C1114.4 846.1 1116.4 846.0 1118.4 845.8 C1120.4 845.6 1122.4 845.4 1124.4 845.2 C1126.4 845.0 1128.4 844.9 1130.4 844.7 C1132.4 844.5 1134.4 844.3 1136.4 844.1 C1138.4 843.9 1140.4 843.8 1142.4 843.6 C1144.4 843.4 1146.4 843.2 1148.4 843.0 C1150.4 842.8 1152.4 842.6 1154.4 842.5 C1156.4 842.3 1158.4 842.1 1160.4 841.9 C1162.4 841.7 1164.4 841.5 1166.4 841.3 C1168.4 841.1 1170.4 841.0 1172.4 840.8 C1174.4 840.6 1176.4 840.4 1178.4 840.2 C1180.4 840.0 1182.4 839.8 1184.4 839.6 C1186.4 839.5 1188.4 839.3 1190.4 839.1 C1192.4 838.9 1194.4 838.7 1196.4 838.5 C1198.4 838.3 1200.4 838.2 1202.4 838.0 C1204.4 837.8 1206.4 837.6 1208.4 837.4 C1210.4 837.2 1212.4 837.0 1214.4 836.9 C1216.4 836.7 1218.4 836.5 1220.4 836.3 C1222.4 836.1 1224.4 835.9 1226.4 835.7 C1228.4 835.6 1230.4 835.4 1232.4 835.2 C1234.4 835.0 1236.4 834.8 1238.4 834.6 C1240.4 834.4 1242.4 834.3 1244.4 834.1 C1246.4 833.9 1248.4 833.7 1250.4 833.5 C1252.4 833.3 1254.4 833.2 1256.4 833.0 C1258.4 832.8 1260.4 832.6 1262.4 832.4 C1264.4 832.3 1266.4 832.1 1268.4 831.9 C1270.4 831.7 1272.4 831.5 1274.4 831.3 C1276.4 831.2 1278.4 831.0 1280.4 830.8 C1282.4 830.6 1284.4 830.4 1286.4 830.3 C1288.4 830.1 1290.4 829.9 1292.4 829.7 C1294.4 829.5 1296.4 829.4 1298.4 829.2 C1300.4 829.0 1302.4 828.8 1304.4 828.7 C1306.4 828.5 1308.4 828.3 1310.4 828.1 C1312.4 828.0 1314.4 827.8 1316.4 827.6 C1318.4 827.4 1320.4 827.2 1322.4 827.1 C1324.4 826.9 1326.4 826.7 1328.4 826.5 C1330.4 826.4 1332.4 826.2 1334.3 826.0 C1336.3 825.9 1338.3 825.7 1340.3 825.5 C1342.3 825.3 1344.3 825.2 1346.3 825.0 C1348.3 824.8 1350.3 824.7 1352.3 824.5 C1354.3 824.3 1356.3 824.1 1358.3 824.0 C1360.3 823.8 1362.3 823.6 1364.3 823.5 C1366.3 823.3 1368.3 823.1 1370.3 823.0 C1372.3 822.8 1374.3 822.6 1376.3 822.5 C1378.3 822.3 1380.3 822.1 1382.3 822.0 C1384.3 821.8 1386.3 821.6 1388.3 821.5 C1390.3 821.3 1392.3 821.1 1394.3 821.0 C1396.3 820.8 1398.3 820.7 1400.3 820.5 C1402.3 820.3 1404.3 820.2 1406.3 820.0 C1408.3 819.9 1410.3 819.7 1412.3 819.5 C1414.3 819.4 1416.3 819.2 1418.3 819.1 C1420.3 818.9 1422.3 818.7 1424.3 818.6 C1426.3 818.4 1428.3 818.3 1430.3 818.1 C1432.3 818.0 1434.3 817.8 1436.3 817.7 C1438.3 817.5 1440.3 817.4 1442.3 817.2 C1444.3 817.1 1446.3 816.9 1448.3 816.8 C1450.3 816.6 1452.3 816.5 1454.3 816.3 C1456.3 816.2 1458.3 816.0 1460.3 815.9 C1462.3 815.7 1464.3 815.6 1466.3 815.4 C1468.3 815.3 1470.3 815.1 1472.3 815.0 C1474.3 814.8 1476.3 814.7 1478.3 814.5 C1480.3 814.4 1482.3 814.3 1484.3 814.1 C1486.3 814.0 1488.3 813.8 1490.3 813.7 C1492.3 813.6 1494.3 813.4 1496.3 813.3 C1498.3 813.1 1500.3 813.0 1502.3 812.9 C1504.3 812.7 1506.3 812.6 1508.3 812.5 C1510.3 812.3 1512.3 812.2 1514.3 812.1 C1516.3 811.9 1518.3 811.8 1520.3 811.7 C1522.3 811.5 1524.3 811.4 1526.3 811.3 C1528.3 811.2 1530.3 811.0 1532.3 810.9 C1534.3 810.8 1536.3 810.6 1538.3 810.5 C1540.3 810.4 1542.3 810.3 1544.3 810.1 C1546.3 810.0 1548.3 809.9 1550.3 809.8 C1552.4 809.7 1554.4 809.5 1556.4 809.4 C1558.4 809.3 1560.4 809.2 1562.4 809.1 C1564.4 808.9 1566.4 808.8 1568.4 808.7 C1570.4 808.6 1572.4 808.5 1574.4 808.4 C1576.4 808.2 1578.4 808.1 1580.4 808.0 C1582.4 807.9 1584.4 807.8 1586.4 807.7 C1588.4 807.6 1590.4 807.5 1592.4 807.4 C1594.4 807.3 1596.4 807.2 1598.4 807.0 C1600.4 806.9 1602.4 806.8 1604.4 806.7 C1606.4 806.6 1608.4 806.5 1610.4 806.4 C1612.5 806.3 1614.5 806.2 1616.5 806.1 C1618.5 806.0 1620.5 805.9 1622.5 805.8 C1624.5 805.7 1626.5 805.6 1628.5 805.6 C1630.5 805.5 1632.5 805.4 1634.5 805.3 C1636.5 805.2 1638.5 805.1 1640.5 805.0 C1642.5 804.9 1644.5 804.8 1646.5 804.7 C1648.6 804.7 1650.6 804.6 1652.6 804.5 C1654.6 804.4 1656.6 804.3 1658.6 804.2 C1660.6 804.1 1662.6 804.1 1664.6 804.0 C1666.6 803.9 1668.6 803.8 1670.6 803.7 C1672.6 803.6 1674.6 803.6 1676.6 803.5 C1678.6 803.4 1680.7 803.3 1682.7 803.2 C1684.7 803.2 1686.7 803.1 1688.7 803.0 C1690.7 802.9 1692.7 802.8 1694.7 802.8 C1696.7 802.7 1698.7 802.6 1700.7 802.5 C1702.7 802.4 1704.7 802.3 1706.7 802.3 C1708.8 802.2 1710.8 802.1 1712.8 802.0 C1714.8 801.9 1716.8 801.8 1718.8 801.7 C1720.8 801.7 1722.8 801.6 1724.8 801.5 C1726.8 801.4 1728.8 801.3 1730.8 801.2 C1732.8 801.1 1734.8 801.0 1736.8 800.9 C1738.8 800.8 1740.9 800.7 1742.9 800.7 C1744.9 800.6 1746.9 800.5 1748.9 800.4 C1750.9 800.3 1752.9 800.2 1754.9 800.0 C1756.9 799.9 1758.9 799.8 1760.9 799.7 C1762.9 799.6 1764.9 799.5 1766.9 799.4 C1768.9 799.3 1770.9 799.2 1772.9 799.1 C1774.9 798.9 1776.9 798.8 1778.9 798.7 C1780.9 798.6 1783.0 798.5 1785.0 798.3 C1787.0 798.2 1789.0 798.1 1791.0 797.9 C1793.0 797.8 1795.0 797.7 1797.0 797.5 C1799.0 797.4 1801.0 797.3 1803.0 797.1 C1805.0 797.0 1807.0 796.8 1809.0 796.7 C1811.0 796.5 1813.0 796.4 1815.0 796.2 C1817.0 796.0 1819.0 795.9 1821.0 795.7 C1823.0 795.5 1825.0 795.4 1827.0 795.2 C1829.0 795.0 1831.0 794.9 1833.0 794.7 C1835.0 794.5 1837.0 794.3 1839.0 794.1 C1841.0 793.9 1843.0 793.7 1845.0 793.5 C1847.0 793.3 1849.0 793.1 1851.0 792.9 C1852.9 792.7 1854.9 792.5 1856.9 792.3 C1858.9 792.1 1860.9 791.9 1862.9 791.6 C1864.9 791.4 1866.9 791.2 1868.9 791.0 C1870.9 790.7 1872.9 790.5 1874.9 790.2 C1876.9 790.0 1878.9 789.7 1880.9 789.5 C1882.8 789.2 1884.8 789.0 1886.8 788.7 C1888.8 788.4 1891.8 788.0 1892.8 787.9 C1892.4 788.8 1891.3 791.5 1890.4 793.3 C1889.5 795.0 1888.5 796.7 1887.5 798.3 C1886.4 799.9 1885.2 801.4 1884.0 802.9 C1882.8 804.4 1881.4 805.8 1880.1 807.2 C1878.7 808.6 1877.2 809.9 1875.7 811.2 C1874.2 812.5 1872.6 813.7 1871.0 814.9 C1869.4 816.1 1867.7 817.2 1866.0 818.3 C1864.3 819.3 1862.6 820.4 1860.8 821.4 C1859.1 822.4 1857.3 823.3 1855.4 824.2 C1853.6 825.1 1851.8 826.0 1850.0 826.8 C1848.1 827.6 1846.3 828.4 1844.4 829.1 C1842.5 829.9 1840.7 830.6 1838.8 831.3 C1836.9 832.0 1835.0 832.6 1833.1 833.2 C1831.2 833.8 1829.3 834.4 1827.4 835.0 C1825.5 835.5 1823.5 836.0 1821.6 836.6 C1819.7 837.1 1817.7 837.5 1815.8 838.0 C1813.8 838.4 1811.9 838.9 1809.9 839.3 C1808.0 839.7 1806.0 840.1 1804.0 840.5 C1802.1 840.8 1800.1 841.2 1798.1 841.5 C1796.2 841.9 1794.2 842.2 1792.2 842.5 C1790.2 842.8 1788.2 843.2 1786.3 843.5 C1784.3 843.8 1782.3 844.0 1780.3 844.3 C1778.3 844.6 1776.3 844.9 1774.3 845.2 C1772.3 845.4 1770.4 845.7 1768.4 846.0 C1766.4 846.2 1764.4 846.5 1762.4 846.8 C1760.4 847.0 1758.4 847.3 1756.4 847.5 C1754.4 847.8 1752.5 848.0 1750.5 848.3 C1748.5 848.5 1746.5 848.8 1744.5 849.0 C1742.5 849.3 1740.5 849.5 1738.5 849.7 C1736.5 850.0 1734.5 850.2 1732.6 850.4 C1730.6 850.6 1728.6 850.9 1726.6 851.1 C1724.6 851.3 1722.6 851.5 1720.6 851.7 C1718.6 851.9 1716.6 852.2 1714.6 852.4 C1712.6 852.6 1710.6 852.8 1708.7 853.0 C1706.7 853.2 1704.7 853.4 1702.7 853.6 C1700.7 853.8 1698.7 854.0 1696.7 854.2 C1694.7 854.3 1692.7 854.5 1690.7 854.7 C1688.7 854.9 1686.7 855.1 1684.7 855.3 C1682.7 855.4 1680.7 855.6 1678.8 855.8 C1676.8 856.0 1674.8 856.1 1672.8 856.3 C1670.8 856.5 1668.8 856.6 1666.8 856.8 C1664.8 857.0 1662.8 857.1 1660.8 857.3 C1658.8 857.5 1656.8 857.6 1654.8 857.8 C1652.8 857.9 1650.8 858.1 1648.8 858.2 C1646.8 858.4 1644.8 858.5 1642.8 858.7 C1640.9 858.8 1638.9 858.9 1636.9 859.1 C1634.9 859.2 1632.9 859.4 1630.9 859.5 C1628.9 859.6 1626.9 859.8 1624.9 859.9 C1622.9 860.0 1620.9 860.2 1618.9 860.3 C1616.9 860.4 1614.9 860.6 1612.9 860.7 C1610.9 860.8 1608.9 860.9 1606.9 861.1 C1604.9 861.2 1602.9 861.3 1600.9 861.4 C1598.9 861.5 1596.9 861.6 1594.9 861.8 C1592.9 861.9 1590.9 862.0 1588.9 862.1 C1586.9 862.2 1584.9 862.3 1582.9 862.4 C1581.0 862.5 1579.0 862.6 1577.0 862.7 C1575.0 862.8 1573.0 863.0 1571.0 863.1 C1569.0 863.2 1567.0 863.3 1565.0 863.4 C1563.0 863.5 1561.0 863.6 1559.0 863.7 C1557.0 863.7 1555.0 863.8 1553.0 863.9 C1551.0 864.0 1549.0 864.1 1547.0 864.2 C1545.0 864.3 1543.0 864.4 1541.0 864.5 C1539.0 864.6 1537.0 864.7 1535.0 864.8 C1533.0 864.8 1531.0 864.9 1529.0 865.0 C1527.0 865.1 1525.0 865.2 1523.0 865.3 C1521.0 865.4 1519.0 865.4 1517.0 865.5 C1515.0 865.6 1513.0 865.7 1511.0 865.8 C1509.0 865.9 1507.0 865.9 1505.0 866.0 C1503.0 866.1 1501.0 866.2 1499.0 866.3 C1497.0 866.3 1495.0 866.4 1493.0 866.5 C1491.0 866.6 1489.0 866.6 1487.0 866.7 C1485.0 866.8 1483.0 866.9 1481.0 866.9 C1479.0 867.0 1477.0 867.1 1475.0 867.2 C1473.0 867.2 1471.0 867.3 1469.0 867.4 C1467.0 867.5 1465.0 867.5 1463.0 867.6 C1461.0 867.7 1459.0 867.7 1457.0 867.8 C1455.0 867.9 1453.0 867.9 1451.0 868.0 C1449.0 868.1 1447.0 868.1 1445.0 868.2 C1443.0 868.3 1441.0 868.3 1439.0 868.4 C1437.0 868.5 1435.0 868.5 1433.0 868.6 C1431.0 868.7 1429.0 868.7 1427.0 868.8 C1425.0 868.9 1423.0 868.9 1421.0 869.0 C1419.0 869.0 1417.0 869.1 1415.0 869.2 C1413.0 869.2 1411.0 869.3 1409.0 869.4 C1407.0 869.4 1405.0 869.5 1403.0 869.5 C1401.0 869.6 1399.0 869.6 1397.0 869.7 C1395.0 869.8 1393.0 869.8 1391.0 869.9 C1389.0 869.9 1387.0 870.0 1385.0 870.0 C1383.0 870.1 1381.0 870.2 1379.0 870.2 C1377.0 870.3 1375.0 870.3 1373.0 870.4 C1371.0 870.4 1369.0 870.5 1367.0 870.5 C1365.0 870.6 1363.0 870.6 1361.0 870.7 C1359.0 870.7 1357.0 870.8 1355.0 870.8 C1353.0 870.9 1351.0 870.9 1349.0 871.0 C1347.0 871.0 1345.0 871.1 1343.0 871.1 C1341.0 871.2 1339.0 871.2 1337.0 871.3 C1335.0 871.3 1333.0 871.4 1331.0 871.4 C1329.0 871.5 1327.0 871.5 1325.0 871.6 C1323.0 871.6 1321.0 871.7 1319.0 871.7 C1317.0 871.7 1315.0 871.8 1313.0 871.8 C1311.0 871.9 1309.0 871.9 1307.0 872.0 C1305.0 872.0 1303.0 872.1 1301.0 872.1 C1299.0 872.1 1297.0 872.2 1295.0 872.2 C1293.0 872.3 1291.0 872.3 1289.0 872.4 C1287.0 872.4 1285.0 872.4 1283.0 872.5 C1281.0 872.5 1279.0 872.6 1277.0 872.6 C1275.0 872.6 1273.0 872.7 1271.0 872.7 C1269.0 872.8 1267.0 872.8 1265.0 872.8 C1263.0 872.9 1261.0 872.9 1259.0 873.0 C1257.0 873.0 1255.0 873.0 1253.0 873.1 C1251.0 873.1 1249.0 873.1 1247.0 873.2 C1245.0 873.2 1243.0 873.3 1241.0 873.3 C1239.0 873.3 1237.0 873.4 1235.0 873.4 C1233.0 873.4 1231.0 873.5 1229.0 873.5 C1227.0 873.5 1225.0 873.6 1223.0 873.6 C1221.0 873.7 1219.0 873.7 1217.0 873.7 C1215.0 873.8 1213.0 873.8 1211.0 873.8 C1209.0 873.9 1207.0 873.9 1205.0 873.9 C1203.0 874.0 1201.0 874.0 1199.0 874.0 C1197.0 874.1 1195.0 874.1 1193.0 874.1 C1191.0 874.2 1189.0 874.2 1187.0 874.2 C1185.0 874.3 1183.0 874.3 1181.0 874.3 C1179.0 874.4 1177.0 874.4 1175.0 874.4 C1173.0 874.5 1171.0 874.5 1169.0 874.5 C1167.0 874.5 1165.0 874.6 1163.0 874.6 C1161.0 874.6 1159.0 874.7 1157.0 874.7 C1155.0 874.7 1153.0 874.8 1151.0 874.8 C1149.0 874.8 1147.0 874.9 1145.0 874.9 C1143.0 874.9 1141.0 874.9 1139.0 875.0 C1137.0 875.0 1135.0 875.0 1132.9 875.1 C1130.9 875.1 1128.9 875.1 1126.9 875.2 C1124.9 875.2 1122.9 875.2 1120.9 875.3 C1118.9 875.3 1116.9 875.3 1114.9 875.3 C1112.9 875.4 1110.9 875.4 1108.9 875.4 C1106.9 875.5 1104.9 875.5 1102.9 875.5 C1100.9 875.5 1098.9 875.6 1096.9 875.6 C1094.9 875.6 1092.9 875.7 1090.9 875.7 C1088.9 875.7 1086.9 875.8 1084.9 875.8 C1082.9 875.8 1080.9 875.8 1078.9 875.9 C1076.9 875.9 1074.9 875.9 1072.9 876.0 C1070.9 876.0 1068.9 876.0 1066.9 876.0 C1064.9 876.1 1062.9 876.1 1060.9 876.1 C1058.9 876.2 1056.9 876.2 1054.9 876.2 C1052.9 876.3 1050.9 876.3 1048.9 876.3 C1046.9 876.3 1044.9 876.4 1042.9 876.4 C1040.9 876.4 1038.9 876.5 1036.9 876.5 C1034.9 876.5 1032.9 876.5 1030.9 876.6 C1028.9 876.6 1026.9 876.6 1024.9 876.7 C1022.9 876.7 1020.9 876.7 1018.9 876.8 C1016.9 876.8 1014.9 876.8 1012.9 876.8 C1010.9 876.9 1008.9 876.9 1006.9 876.9 C1004.9 877.0 1002.9 877.0 1000.9 877.0 C998.9 877.1 996.9 877.1 994.9 877.1 C992.9 877.2 990.9 877.2 988.9 877.2 C986.9 877.2 984.9 877.3 982.9 877.3 C980.9 877.3 978.9 877.4 976.9 877.4 C974.9 877.4 972.9 877.5 970.9 877.5 C968.9 877.5 966.9 877.6 964.9 877.6 C962.9 877.6 960.9 877.7 958.9 877.7 C956.8 877.7 954.8 877.8 952.8 877.8 C950.8 877.8 948.8 877.9 946.8 877.9 C944.8 877.9 942.8 878.0 940.8 878.0 C938.8 878.0 936.8 878.1 934.8 878.1 C932.8 878.1 930.8 878.2 928.8 878.2 C926.8 878.2 924.8 878.3 922.8 878.3 C920.8 878.4 918.8 878.4 916.8 878.4 C914.8 878.5 912.8 878.5 910.8 878.5 C908.8 878.6 906.8 878.6 904.8 878.7 C902.8 878.7 900.8 878.7 898.8 878.8 C896.8 878.8 894.8 878.8 892.8 878.9 C890.8 878.9 888.8 879.0 886.8 879.0 C884.8 879.0 882.8 879.1 880.8 879.1 C878.8 879.2 876.8 879.2 874.8 879.2 C872.8 879.3 870.8 879.3 868.8 879.4 C866.8 879.4 864.8 879.4 862.8 879.5 C860.8 879.5 858.8 879.6 856.8 879.6 C854.8 879.7 852.8 879.7 850.8 879.7 C848.8 879.8 846.8 879.8 844.8 879.9 C842.8 879.9 840.8 880.0 838.8 880.0 C836.8 880.0 834.8 880.1 832.8 880.1 C830.8 880.2 828.8 880.2 826.8 880.3 C824.8 880.3 822.8 880.4 820.8 880.4 C818.8 880.5 816.8 880.5 814.8 880.6 C812.8 880.6 810.8 880.7 808.8 880.7 C806.8 880.8 804.8 880.8 802.8 880.9 C800.8 880.9 798.8 881.0 796.8 881.0 C794.8 881.1 792.8 881.1 790.8 881.2 C788.8 881.2 786.8 881.3 784.8 881.3 C782.8 881.4 780.8 881.4 778.8 881.5 C776.8 881.5 774.8 881.6 772.8 881.6 C770.8 881.7 768.8 881.8 766.8 881.8 C764.8 881.9 762.8 881.9 760.8 882.0 C758.8 882.0 756.8 882.1 754.8 882.2 C752.8 882.2 750.8 882.3 748.8 882.3 C746.8 882.4 744.8 882.4 742.8 882.5 C740.8 882.6 738.8 882.6 736.8 882.7 C734.8 882.7 732.8 882.8 730.8 882.9 C728.8 882.9 726.8 883.0 724.8 883.1 C722.8 883.1 720.8 883.2 718.8 883.3 C716.8 883.3 714.8 883.4 712.8 883.4 C710.8 883.5 708.8 883.6 706.8 883.6 C704.8 883.7 702.8 883.8 700.8 883.9 C698.8 883.9 696.8 884.0 694.8 884.1 C692.8 884.1 690.8 884.2 688.8 884.3 C686.8 884.3 684.8 884.4 682.8 884.5 C680.8 884.6 678.8 884.6 676.8 884.7 C674.8 884.8 672.8 884.9 670.8 884.9 C668.8 885.0 666.8 885.1 664.8 885.2 C662.8 885.2 660.8 885.3 658.8 885.4 C656.8 885.5 654.8 885.5 652.8 885.6 C650.8 885.7 648.8 885.8 646.8 885.9 C644.8 885.9 642.8 886.0 640.8 886.1 C638.8 886.2 636.8 886.3 634.8 886.3 C632.8 886.4 630.8 886.5 628.8 886.6 C626.8 886.7 624.8 886.8 622.8 886.9 C620.8 886.9 618.8 887.0 616.8 887.1 C614.8 887.2 612.8 887.3 610.8 887.4 C608.8 887.5 606.8 887.6 604.8 887.7 C602.8 887.7 600.9 887.8 598.9 887.9 C596.9 888.0 594.9 888.1 592.9 888.2 C590.9 888.3 588.9 888.4 586.9 888.5 C584.9 888.6 582.9 888.7 580.9 888.8 C578.9 888.9 576.9 889.0 574.9 889.1 C572.9 889.2 570.9 889.3 568.9 889.4 C566.9 889.5 564.9 889.6 562.9 889.7 C560.9 889.8 558.9 889.9 556.9 890.0 C554.9 890.1 552.9 890.2 550.9 890.3 C548.9 890.4 546.9 890.5 544.9 890.6 C542.9 890.7 540.9 890.8 538.9 891.0 C536.9 891.1 534.9 891.2 532.9 891.3 C530.9 891.4 528.9 891.5 526.9 891.6 C524.9 891.7 522.9 891.8 520.9 892.0 C518.9 892.1 516.9 892.2 514.9 892.3 C512.9 892.4 510.9 892.5 508.9 892.7 C506.9 892.8 505.0 892.9 503.0 893.0 C501.0 893.1 499.0 893.3 497.0 893.4 C495.0 893.5 493.0 893.6 491.0 893.8 C489.0 893.9 487.0 894.0 485.0 894.1 C483.0 894.3 481.0 894.4 479.0 894.5 C477.0 894.6 474.0 894.8 473.0 894.9"/>
<path stroke="#0000ff" stroke-width="13.8" d="M1044.8 883.3 C1045.3 882.4 1046.7 879.8 1047.7 878.0 C1048.6 876.2 1049.6 874.5 1050.5 872.7 C1051.4 870.9 1052.4 869.2 1053.3 867.4 C1054.2 865.6 1055.2 863.9 1056.1 862.1 C1057.0 860.3 1057.9 858.5 1058.9 856.7 C1059.8 855.0 1060.7 853.2 1061.6 851.4 C1062.5 849.6 1063.4 847.8 1064.3 846.0 C1065.2 844.2 1066.1 842.4 1067.0 840.6 C1067.9 838.9 1068.7 837.1 1069.6 835.3 C1070.5 833.5 1071.4 831.7 1072.3 829.9 C1073.1 828.1 1074.0 826.3 1074.9 824.5 C1075.7 822.6 1076.6 820.8 1077.5 819.0 C1078.3 817.2 1079.2 815.4 1080.0 813.6 C1080.9 811.8 1081.7 810.0 1082.6 808.2 C1083.4 806.3 1084.2 804.5 1085.1 802.7 C1085.9 800.9 1086.7 799.1 1087.6 797.2 C1088.4 795.4 1089.2 793.6 1090.1 791.8 C1090.9 789.9 1091.7 788.1 1092.5 786.3 C1093.3 784.4 1094.1 782.6 1094.9 780.8 C1095.7 778.9 1096.5 777.1 1097.4 775.3 C1098.2 773.4 1098.9 771.6 1099.7 769.8 C1100.5 767.9 1101.3 766.1 1102.1 764.2 C1102.9 762.4 1103.7 760.5 1104.5 758.7 C1105.3 756.9 1106.0 755.0 1106.8 753.2 C1107.6 751.3 1108.4 749.5 1109.1 747.6 C1109.9 745.8 1110.7 743.9 1111.4 742.1 C1112.2 740.2 1112.9 738.3 1113.7 736.5 C1114.5 734.6 1115.2 732.8 1116.0 730.9 C1116.7 729.1 1117.5 727.2 1118.2 725.3 C1119.0 723.5 1119.7 721.6 1120.4 719.7 C1121.2 717.9 1121.9 716.0 1122.7 714.1 C1123.4 712.3 1124.1 710.4 1124.9 708.5 C1125.6 706.7 1126.3 704.8 1127.0 702.9 C1127.8 701.1 1128.5 699.2 1129.2 697.3 C1129.9 695.4 1130.6 693.6 1131.4 691.7 C1132.1 689.8 1132.8 687.9 1133.5 686.1 C1134.2 684.2 1134.9 682.3 1135.6 680.4 C1136.3 678.5 1137.0 676.7 1137.7 674.8 C1138.4 672.9 1139.1 671.0 1139.8 669.1 C1140.5 667.3 1141.2 665.4 1141.9 663.5 C1142.6 661.6 1143.3 659.7 1144.0 657.8 C1144.7 655.9 1145.4 654.1 1146.0 652.2 C1146.7 650.3 1147.4 648.4 1148.1 646.5 C1148.8 644.6 1149.4 642.7 1150.1 640.8 C1150.8 638.9 1151.5 637.0 1152.2 635.1 C1152.8 633.3 1153.5 631.4 1154.2 629.5 C1154.8 627.6 1155.5 625.7 1156.2 623.8 C1156.8 621.9 1157.5 620.0 1158.2 618.1 C1158.8 616.2 1159.5 614.3 1160.2 612.4 C1160.8 610.5 1161.5 608.6 1162.1 606.7 C1162.8 604.8 1163.4 602.9 1164.1 601.0 C1164.8 599.1 1165.4 597.2 1166.1 595.3 C1166.7 593.4 1167.4 591.5 1168.0 589.6 C1168.7 587.7 1169.3 585.8 1170.0 583.9 C1170.6 582.0 1171.3 580.1 1171.9 578.2 C1172.5 576.3 1173.2 574.4 1173.8 572.5 C1174.5 570.6 1175.1 568.7 1175.8 566.8 C1176.4 564.9 1177.0 563.0 1177.7 561.1 C1178.3 559.2 1179.0 557.2 1179.6 555.3 C1180.2 553.4 1180.9 551.5 1181.5 549.6 C1182.1 547.7 1182.8 545.8 1183.4 543.9 C1184.0 542.0 1184.7 540.1 1185.3 538.2 C1185.9 536.3 1186.6 534.4 1187.2 532.5 C1187.8 530.6 1188.5 528.7 1189.1 526.8 C1189.7 524.9 1190.3 522.9 1191.0 521.0 C1191.6 519.1 1192.2 517.2 1192.9 515.3 C1193.5 513.4 1194.1 511.5 1194.7 509.6 C1195.4 507.7 1196.0 505.8 1196.6 503.9 C1197.2 502.0 1197.9 500.1 1198.5 498.2 C1199.1 496.3 1199.7 494.4 1200.4 492.5 C1201.0 490.6 1201.6 488.6 1202.2 486.7 C1202.9 484.8 1203.5 482.9 1204.1 481.0 C1204.7 479.1 1205.4 477.2 1206.0 475.3 C1206.6 473.4 1207.2 471.5 1207.9 469.6 C1208.5 467.7 1209.1 465.8 1209.7 463.9 C1210.4 462.0 1211.0 460.1 1211.6 458.2 C1212.3 456.3 1212.9 454.4 1213.5 452.5 C1214.1 450.6 1214.8 448.7 1215.4 446.8 C1216.0 444.9 1216.6 443.0 1217.3 441.1 C1217.9 439.2 1218.5 437.3 1219.1 435.4 C1219.8 433.5 1220.4 431.6 1221.0 429.7 C1221.7 427.8 1222.3 425.9 1222.9 424.0 C1223.5 422.1 1224.2 420.2 1224.8 418.3 C1225.4 416.4 1226.1 414.6 1226.7 412.7 C1227.3 410.8 1228.0 408.9 1228.6 407.0 C1229.2 405.1 1229.9 403.2 1230.5 401.3 C1231.1 399.4 1231.8 397.5 1232.4 395.6 C1233.1 393.8 1233.7 391.9 1234.3 390.0 C1235.0 388.1 1235.6 386.2 1236.3 384.3 C1236.9 382.4 1237.5 380.6 1238.2 378.7 C1238.8 376.8 1239.5 374.9 1240.1 373.0 C1240.8 371.2 1241.4 369.3 1242.1 367.4 C1242.7 365.5 1243.4 363.6 1244.0 361.8 C1244.7 359.9 1245.3 358.0 1246.0 356.1 C1246.6 354.3 1247.3 352.4 1247.9 350.5 C1248.6 348.6 1249.2 346.8 1249.9 344.9 C1250.6 343.0 1251.2 341.2 1251.9 339.3 C1252.5 337.4 1253.2 335.5 1253.9 333.7 C1254.5 331.8 1255.2 329.9 1255.9 328.1 C1256.6 326.2 1257.2 324.3 1257.9 322.5 C1258.6 320.6 1259.3 318.8 1260.0 316.9 C1260.7 315.0 1261.4 313.2 1262.1 311.3 C1262.8 309.4 1263.6 307.5 1264.3 305.7 C1265.0 303.8 1265.8 301.9 1266.5 300.1 C1267.3 298.2 1268.1 296.3 1268.8 294.4 C1269.6 292.6 1270.4 290.7 1271.2 288.8 C1272.0 286.9 1272.8 285.0 1273.7 283.2 C1274.5 281.3 1275.3 279.4 1276.2 277.5 C1277.1 275.6 1278.0 273.7 1278.9 271.8 C1279.8 269.9 1280.7 268.0 1281.6 266.1 C1282.5 264.2 1283.5 262.3 1284.5 260.4 C1285.5 258.5 1286.4 256.6 1287.5 254.7 C1288.5 252.9 1289.6 251.0 1290.7 249.2 C1291.7 247.4 1292.9 245.6 1294.0 243.9 C1295.2 242.3 1296.4 240.6 1297.7 239.0 C1298.9 237.5 1300.2 236.0 1301.5 234.6 C1302.9 233.2 1304.3 231.8 1305.7 230.6 C1307.2 229.4 1308.7 228.3 1310.3 227.4 C1311.8 226.4 1313.5 225.5 1315.2 224.8 C1316.8 224.1 1318.6 223.5 1320.4 223.2 C1322.1 222.8 1323.9 222.6 1325.6 222.8 C1327.3 222.9 1329.0 223.2 1330.6 224.0 C1332.1 224.7 1333.6 225.8 1334.9 227.1 C1336.2 228.4 1337.4 230.1 1338.6 231.7 C1339.7 233.4 1340.7 235.2 1341.8 237.0 C1342.8 238.8 1343.7 240.6 1344.6 242.4 C1345.6 244.3 1346.4 246.1 1347.2 247.9 C1348.1 249.8 1348.8 251.6 1349.6 253.5 C1350.3 255.4 1351.0 257.3 1351.7 259.2 C1352.4 261.0 1353.0 262.9 1353.6 264.8 C1354.3 266.8 1354.9 268.7 1355.4 270.6 C1356.0 272.5 1356.5 274.4 1357.1 276.4 C1357.6 278.3 1358.1 280.3 1358.6 282.2 C1359.1 284.1 1359.6 286.1 1360.1 288.0 C1360.6 290.0 1361.1 291.9 1361.6 293.9 C1362.1 295.9 1362.5 297.8 1363.0 299.8 C1363.5 301.7 1364.0 303.7 1364.4 305.7 C1364.9 307.6 1365.4 309.6 1365.9 311.5 C1366.3 313.5 1366.8 315.5 1367.3 317.4 C1367.7 319.4 1368.2 321.4 1368.7 323.3 C1369.2 325.3 1369.6 327.3 1370.1 329.3 C1370.6 331.2 1371.0 333.2 1371.5 335.2 C1372.0 337.1 1372.4 339.1 1372.9 341.1 C1373.4 343.0 1373.9 345.0 1374.3 347.0 C1374.8 348.9 1375.3 350.9 1375.8 352.9 C1376.3 354.8 1376.8 356.8 1377.2 358.8 C1377.7 360.7 1378.2 362.7 1378.7 364.6 C1379.2 366.6 1379.7 368.6 1380.2 370.5 C1380.7 372.5 1381.2 374.4 1381.8 376.4 C1382.3 378.3 1382.8 380.3 1383.3 382.2 C1383.8 384.2 1384.4 386.1 1384.9 388.1 C1385.4 390.0 1386.0 392.0 1386.5 393.9 C1387.1 395.8 1387.6 397.8 1388.2 399.7 C1388.8 401.6 1389.3 403.5 1389.9 405.5 C1390.5 407.4 1391.1 409.3 1391.7 411.2 C1392.3 413.1 1392.9 415.1 1393.5 417.0 C1394.1 418.9 1394.7 420.8 1395.4 422.7 C1396.0 424.6 1396.6 426.5 1397.3 428.3 C1397.9 430.2 1398.6 432.1 1399.3 434.0 C1399.9 435.9 1400.6 437.7 1401.3 439.6 C1402.0 441.5 1402.7 443.3 1403.4 445.2 C1404.1 447.1 1404.9 448.9 1405.6 450.7 C1406.3 452.6 1407.1 454.4 1407.9 456.3 C1408.6 458.1 1409.4 459.9 1410.2 461.7 C1411.0 463.6 1411.8 465.4 1412.6 467.2 C1413.4 469.0 1414.3 470.8 1415.1 472.6 C1416.0 474.4 1416.8 476.1 1417.7 477.9 C1418.6 479.7 1419.5 481.5 1420.4 483.2 C1421.3 485.0 1422.2 486.7 1423.2 488.5 C1424.1 490.2 1425.1 491.9 1426.1 493.7 C1427.0 495.4 1428.0 497.1 1429.0 498.8 C1430.0 500.5 1431.1 502.2 1432.1 503.9 C1433.2 505.6 1434.2 507.3 1435.3 509.0 C1436.4 510.7 1437.5 512.3 1438.6 514.0 C1439.7 515.7 1440.8 517.3 1441.9 519.0 C1443.0 520.7 1444.1 522.3 1445.3 524.0 C1446.4 525.6 1447.6 527.3 1448.7 529.0 C1449.8 530.6 1451.0 532.3 1452.2 533.9 C1453.3 535.6 1454.5 537.3 1455.6 539.0 C1456.8 540.6 1457.9 542.3 1459.1 544.0 C1460.2 545.7 1461.4 547.4 1462.5 549.1 C1463.7 550.8 1464.8 552.5 1465.9 554.2 C1467.1 555.9 1468.2 557.7 1469.4 559.4 C1470.5 561.1 1471.7 562.7 1472.9 564.4 C1474.1 566.0 1475.4 567.6 1476.7 569.2 C1478.0 570.7 1479.3 572.2 1480.7 573.6 C1482.1 575.1 1483.5 576.4 1485.0 577.8 C1486.4 579.1 1488.0 580.4 1489.5 581.6 C1491.1 582.8 1492.7 584.0 1494.3 585.1 C1495.9 586.2 1497.6 587.3 1499.3 588.3 C1501.0 589.4 1502.7 590.4 1504.5 591.3 C1506.2 592.3 1508.0 593.2 1509.8 594.0 C1511.6 594.9 1513.5 595.7 1515.3 596.5 C1517.2 597.3 1519.1 598.0 1521.0 598.7 C1522.8 599.5 1524.8 600.1 1526.7 600.8 C1528.6 601.4 1530.5 602.1 1532.5 602.6 C1534.4 603.2 1536.4 603.8 1538.3 604.3 C1540.3 604.9 1542.3 605.4 1544.2 605.8 C1546.2 606.3 1548.2 606.8 1550.1 607.2 C1552.1 607.7 1554.1 608.1 1556.1 608.5 C1558.0 608.9 1560.0 609.2 1562.0 609.6 C1564.0 610.0 1565.9 610.3 1567.9 610.6 C1569.9 610.9 1571.9 611.2 1573.8 611.5 C1575.8 611.7 1577.8 612.0 1579.8 612.2 C1581.7 612.4 1583.7 612.6 1585.7 612.8 C1587.7 613.0 1589.6 613.2 1591.6 613.4 C1593.6 613.5 1595.6 613.6 1597.6 613.8 C1599.5 613.9 1601.5 614.0 1603.5 614.1 C1605.5 614.1 1607.5 614.2 1609.4 614.2 C1611.4 614.3 1613.4 614.3 1615.4 614.3 C1617.4 614.4 1619.4 614.3 1621.3 614.3 C1623.3 614.3 1625.3 614.3 1627.3 614.2 C1629.3 614.2 1631.2 614.1 1633.2 614.0 C1635.2 614.0 1637.2 613.9 1639.2 613.7 C1641.2 613.6 1643.1 613.5 1645.1 613.4 C1647.1 613.2 1649.1 613.1 1651.1 612.9 C1653.1 612.8 1655.0 612.6 1657.0 612.4 C1659.0 612.2 1661.0 612.0 1663.0 611.8 C1665.0 611.6 1667.0 611.3 1668.9 611.1 C1670.9 610.9 1672.9 610.6 1674.9 610.3 C1676.9 610.1 1678.9 609.8 1680.8 609.5 C1682.8 609.2 1684.8 608.9 1686.8 608.6 C1688.8 608.3 1690.7 608.0 1692.7 607.7 C1694.7 607.4 1696.7 607.0 1698.7 606.7 C1700.7 606.4 1702.6 606.0 1704.6 605.6 C1706.6 605.3 1708.6 604.9 1710.6 604.5 C1712.5 604.2 1714.5 603.8 1716.5 603.4 C1718.5 603.0 1720.5 602.6 1722.4 602.2 C1724.4 601.8 1726.4 601.4 1728.4 600.9 C1730.3 600.5 1732.3 600.1 1734.3 599.7 C1736.3 599.2 1738.3 598.8 1740.2 598.3 C1742.2 597.9 1744.2 597.4 1746.2 597.0 C1748.1 596.5 1750.1 596.1 1752.1 595.6 C1754.1 595.2 1756.0 594.7 1758.0 594.2 C1760.0 593.7 1761.9 593.3 1763.9 592.8 C1765.9 592.3 1767.9 591.8 1769.8 591.3 C1771.8 590.9 1773.8 590.4 1775.7 589.9 C1777.7 589.4 1779.7 588.9 1781.6 588.4 C1783.6 587.9 1785.6 587.4 1787.5 586.9 C1789.5 586.4 1791.4 585.9 1793.4 585.4 C1795.4 584.9 1797.3 584.4 1799.3 583.9 C1801.3 583.4 1803.2 582.9 1805.2 582.4 C1807.1 581.9 1809.1 581.4 1811.0 581.0 C1813.0 580.5 1815.0 580.0 1816.9 579.5 C1818.9 579.0 1820.8 578.5 1822.8 578.0 C1824.7 577.5 1826.7 577.0 1828.6 576.5 C1830.6 576.0 1832.5 575.6 1834.5 575.1 C1836.4 574.6 1838.4 574.1 1840.3 573.6 C1842.3 573.2 1844.2 572.7 1846.1 572.2 C1848.1 571.8 1850.0 571.3 1852.0 570.8 C1853.9 570.4 1855.8 569.9 1857.8 569.5 C1859.7 569.0 1861.7 568.6 1863.6 568.2 C1865.5 567.7 1867.5 567.3 1869.4 566.9 C1871.3 566.4 1873.3 566.0 1875.2 565.6 C1877.1 565.2 1879.0 564.8 1881.0 564.4 C1882.9 564.0 1884.8 563.6 1886.7 563.2 C1888.7 562.8 1891.5 562.3 1892.5 562.1 C1892.4 563.1 1891.9 565.9 1891.6 567.8 C1891.3 569.8 1891.0 571.7 1890.7 573.6 C1890.4 575.6 1890.0 577.5 1889.7 579.4 C1889.3 581.4 1888.9 583.3 1888.5 585.3 C1888.1 587.2 1887.7 589.2 1887.3 591.1 C1886.9 593.0 1886.5 595.0 1886.0 597.0 C1885.6 598.9 1885.1 600.9 1884.7 602.8 C1884.2 604.8 1883.7 606.7 1883.2 608.7 C1882.7 610.6 1882.1 612.6 1881.6 614.5 C1881.1 616.5 1880.5 618.4 1879.9 620.3 C1879.4 622.3 1878.8 624.2 1878.2 626.2 C1877.5 628.1 1876.9 630.0 1876.3 631.9 C1875.6 633.9 1875.0 635.8 1874.3 637.7 C1873.6 639.6 1872.9 641.5 1872.2 643.4 C1871.5 645.3 1870.8 647.2 1870.0 649.1 C1869.3 651.0 1868.5 652.9 1867.7 654.7 C1866.9 656.6 1866.1 658.5 1865.3 660.3 C1864.5 662.2 1863.7 664.0 1862.8 665.8 C1861.9 667.7 1861.1 669.5 1860.2 671.3 C1859.3 673.1 1858.3 674.9 1857.4 676.7 C1856.5 678.5 1855.5 680.2 1854.5 682.0 C1853.5 683.7 1852.5 685.5 1851.5 687.2 C1850.5 688.9 1849.5 690.6 1848.4 692.3 C1847.3 694.0 1846.2 695.7 1845.1 697.4 C1844.0 699.0 1842.9 700.7 1841.8 702.3 C1840.6 704.0 1839.4 705.6 1838.3 707.2 C1837.1 708.8 1835.9 710.3 1834.6 711.9 C1833.4 713.4 1832.1 715.0 1830.8 716.5 C1829.6 718.0 1828.3 719.5 1826.9 721.0 C1825.6 722.5 1824.3 723.9 1822.9 725.3 C1821.5 726.8 1820.1 728.2 1818.7 729.6 C1817.3 730.9 1815.8 732.3 1814.4 733.6 C1812.9 735.0 1811.4 736.3 1809.9 737.6 C1808.4 738.9 1806.8 740.1 1805.3 741.4 C1803.7 742.6 1802.2 743.8 1800.6 745.0 C1799.0 746.2 1797.3 747.4 1795.7 748.5 C1794.1 749.7 1792.4 750.8 1790.7 751.9 C1789.0 753.0 1787.4 754.1 1785.6 755.1 C1783.9 756.2 1782.2 757.2 1780.5 758.2 C1778.7 759.2 1777.0 760.2 1775.2 761.2 C1773.4 762.2 1771.7 763.1 1769.9 764.0 C1768.1 764.9 1766.3 765.8 1764.4 766.7 C1762.6 767.6 1760.8 768.5 1759.0 769.3 C1757.1 770.1 1755.3 771.0 1753.4 771.8 C1751.6 772.6 1749.7 773.3 1747.8 774.1 C1746.0 774.8 1744.1 775.6 1742.2 776.3 C1740.3 777.0 1738.4 777.7 1736.5 778.4 C1734.7 779.1 1732.8 779.7 1730.9 780.4 C1729.0 781.0 1727.1 781.6 1725.2 782.2 C1723.3 782.8 1721.4 783.4 1719.5 784.0 C1717.6 784.5 1715.7 785.1 1713.8 785.6 C1711.8 786.1 1709.9 786.6 1708.0 787.1 C1706.1 787.6 1704.2 788.1 1702.3 788.6 C1700.4 789.0 1698.5 789.5 1696.6 789.9 C1694.6 790.4 1692.7 790.8 1690.8 791.2 C1688.9 791.6 1687.0 792.0 1685.0 792.4 C1683.1 792.8 1681.2 793.2 1679.3 793.5 C1677.3 793.9 1675.4 794.2 1673.5 794.6 C1671.5 794.9 1669.6 795.3 1667.6 795.6 C1665.7 795.9 1663.8 796.2 1661.8 796.5 C1659.9 796.8 1657.9 797.1 1656.0 797.4 C1654.0 797.7 1652.1 798.0 1650.1 798.3 C1648.1 798.6 1646.2 798.9 1644.2 799.1 C1642.3 799.4 1640.3 799.7 1638.3 799.9 C1636.3 800.2 1634.4 800.5 1632.4 800.7 C1630.4 801.0 1628.4 801.2 1626.4 801.5 C1624.5 801.7 1622.5 802.0 1620.5 802.2 C1618.5 802.5 1616.5 802.7 1614.5 802.9 C1612.5 803.2 1610.5 803.4 1608.5 803.7 C1606.5 803.9 1604.5 804.1 1602.5 804.4 C1600.5 804.6 1598.5 804.8 1596.5 805.1 C1594.5 805.3 1592.4 805.5 1590.4 805.8 C1588.4 806.0 1586.4 806.2 1584.4 806.5 C1582.4 806.7 1580.4 806.9 1578.3 807.2 C1576.3 807.4 1574.3 807.6 1572.3 807.9 C1570.3 808.1 1568.3 808.3 1566.2 808.6 C1564.2 808.8 1562.2 809.1 1560.2 809.3 C1558.2 809.6 1556.1 809.8 1554.1 810.1 C1552.1 810.3 1550.1 810.6 1548.1 810.8 C1546.0 811.1 1544.0 811.3 1542.0 811.6 C1540.0 811.9 1538.0 812.1 1536.0 812.4 C1533.9 812.7 1531.9 813.0 1529.9 813.2 C1527.9 813.5 1525.9 813.8 1523.9 814.1 C1521.9 814.4 1519.8 814.7 1517.8 815.0 C1515.8 815.3 1513.8 815.6 1511.8 815.9 C1509.8 816.2 1507.8 816.5 1505.8 816.9 C1503.8 817.2 1501.8 817.5 1499.8 817.9 C1497.8 818.2 1495.8 818.6 1493.8 818.9 C1491.8 819.3 1489.8 819.6 1487.9 820.0 C1485.9 820.4 1483.9 820.8 1481.9 821.1 C1479.9 821.5 1478.0 821.9 1476.0 822.3 C1474.0 822.7 1472.1 823.1 1470.1 823.6 C1468.1 824.0 1466.2 824.4 1464.2 824.9 C1462.2 825.3 1460.3 825.8 1458.3 826.2 C1456.4 826.7 1454.5 827.2 1452.5 827.7 C1450.6 828.1 1448.6 828.6 1446.7 829.2 C1444.8 829.7 1442.9 830.2 1440.9 830.7 C1439.0 831.2 1437.1 831.8 1435.2 832.3 C1433.3 832.9 1431.4 833.5 1429.5 834.0 C1427.6 834.6 1425.7 835.2 1423.8 835.8 C1421.9 836.4 1420.0 837.1 1418.1 837.7 C1416.3 838.3 1414.4 839.0 1412.5 839.6 C1410.7 840.3 1408.8 841.0 1407.0 841.7 C1405.1 842.4 1403.3 843.1 1401.4 843.8 C1399.6 844.5 1397.8 845.2 1396.0 846.0 C1394.1 846.7 1392.3 847.5 1390.5 848.3 C1388.7 849.1 1386.9 849.9 1385.1 850.7 C1383.3 851.5 1381.5 852.4 1379.8 853.2 C1378.0 854.1 1376.2 854.9 1374.5 855.8 C1372.7 856.7 1370.9 857.6 1369.2 858.5 C1367.5 859.4 1365.7 860.4 1364.0 861.3 C1362.3 862.3 1360.5 863.2 1358.8 864.2 C1357.1 865.2 1355.4 866.2 1353.7 867.2 C1352.0 868.2 1350.3 869.3 1348.6 870.3 C1346.9 871.3 1345.2 872.4 1343.6 873.5 C1341.9 874.5 1340.2 875.6 1338.6 876.7 C1336.9 877.8 1335.2 878.9 1333.6 880.0 C1331.9 881.1 1330.3 882.3 1328.7 883.4 C1327.0 884.5 1325.4 885.7 1323.7 886.8 C1322.1 888.0 1320.5 889.2 1318.9 890.3 C1317.2 891.5 1315.6 892.7 1314.0 893.9 C1312.4 895.1 1310.8 896.3 1309.2 897.5 C1307.6 898.7 1306.0 899.9 1304.4 901.2 C1302.8 902.4 1301.2 903.6 1299.6 904.9 C1298.0 906.1 1296.4 907.4 1294.8 908.6 C1293.2 909.9 1291.6 911.1 1290.1 912.4 C1288.5 913.6 1286.9 914.9 1285.3 916.2 C1283.7 917.5 1282.2 918.7 1280.6 920.0 C1279.0 921.3 1277.4 922.6 1275.9 923.9 C1274.3 925.1 1272.7 926.4 1271.2 927.7 C1269.6 929.0 1268.0 930.3 1266.5 931.6 C1264.9 932.9 1263.3 934.2 1261.8 935.5 C1260.2 936.8 1258.7 938.1 1257.1 939.4 C1255.5 940.7 1254.0 942.0 1252.4 943.3 C1250.8 944.6 1249.3 945.9 1247.7 947.1 C1246.1 948.4 1244.6 949.7 1243.0 951.0 C1241.4 952.3 1239.9 953.6 1238.3 954.9 C1236.7 956.2 1235.2 957.4 1233.6 958.7 C1232.0 960.0 1230.5 961.3 1228.9 962.5 C1227.3 963.8 1225.7 965.1 1224.2 966.3 C1222.6 967.6 1221.0 968.8 1219.4 970.1 C1217.8 971.3 1216.2 972.6 1214.7 973.8 C1213.1 975.0 1211.5 976.3 1209.9 977.5 C1208.3 978.7 1206.7 979.9 1205.1 981.1 C1203.5 982.3 1201.9 983.5 1200.3 984.7 C1198.7 985.9 1197.1 987.1 1195.4 988.2 C1193.8 989.4 1192.2 990.5 1190.6 991.6 C1188.9 992.7 1187.3 993.9 1185.6 994.9 C1184.0 996.0 1182.3 997.1 1180.6 998.1 C1179.0 999.1 1177.3 1000.1 1175.6 1001.1 C1173.9 1002.1 1172.2 1003.0 1170.5 1004.0 C1168.8 1004.9 1167.0 1005.8 1165.3 1006.6 C1163.5 1007.4 1161.8 1008.3 1160.0 1009.0 C1158.2 1009.8 1156.4 1010.5 1154.6 1011.2 C1152.8 1011.9 1151.0 1012.6 1149.2 1013.2 C1147.3 1013.8 1145.5 1014.4 1143.6 1014.9 C1141.7 1015.4 1139.9 1015.9 1138.0 1016.3 C1136.1 1016.8 1134.2 1017.2 1132.3 1017.6 C1130.3 1017.9 1128.4 1018.3 1126.5 1018.5 C1124.5 1018.8 1122.6 1019.1 1120.7 1019.3 C1118.7 1019.5 1116.7 1019.7 1114.8 1019.8 C1112.8 1019.9 1110.8 1020.0 1108.9 1020.1 C1106.9 1020.2 1104.9 1020.2 1102.9 1020.2 C1100.9 1020.2 1098.9 1020.2 1096.9 1020.2 C1094.9 1020.1 1092.9 1020.0 1090.9 1019.9 C1088.9 1019.8 1086.9 1019.7 1084.8 1019.6 C1082.8 1019.4 1080.8 1019.3 1078.8 1019.1 C1076.7 1018.9 1074.7 1018.7 1072.7 1018.5 C1070.6 1018.3 1068.6 1018.1 1066.6 1017.9 C1064.5 1017.6 1062.5 1017.4 1060.4 1017.1 C1058.4 1016.9 1056.4 1016.6 1054.3 1016.4 C1052.3 1016.1 1050.2 1015.8 1048.2 1015.6 C1046.2 1015.3 1044.1 1015.0 1042.1 1014.7 C1040.0 1014.5 1038.0 1014.2 1036.0 1013.9 C1033.9 1013.7 1031.9 1013.4 1029.8 1013.2 C1027.8 1012.9 1025.8 1012.7 1023.7 1012.5 C1021.7 1012.2 1019.7 1012.0 1017.7 1011.8 C1015.6 1011.6 1013.6 1011.4 1011.6 1011.2 C1009.6 1011.0 1007.6 1010.8 1005.5 1010.6 C1003.5 1010.4 1001.5 1010.2 999.5 1010.1 C997.5 1009.9 995.5 1009.8 993.5 1009.6 C991.4 1009.5 989.4 1009.4 987.4 1009.2 C985.4 1009.1 983.4 1009.0 981.4 1008.9 C979.4 1008.8 977.4 1008.8 975.4 1008.7 C973.4 1008.6 971.4 1008.6 969.5 1008.5 C967.5 1008.5 965.5 1008.5 963.5 1008.4 C961.5 1008.4 959.5 1008.4 957.5 1008.4 C955.5 1008.5 953.6 1008.5 951.6 1008.5 C949.6 1008.6 947.6 1008.6 945.7 1008.7 C943.7 1008.8 941.7 1008.9 939.7 1009.0 C937.8 1009.1 935.8 1009.2 933.8 1009.3 C931.9 1009.5 929.9 1009.6 927.9 1009.8 C926.0 1010.0 924.0 1010.2 922.1 1010.4 C920.1 1010.6 918.2 1010.8 916.2 1011.1 C914.3 1011.3 912.3 1011.6 910.4 1011.9 C908.4 1012.2 906.5 1012.5 904.5 1012.8 C902.6 1013.1 900.6 1013.4 898.7 1013.8 C896.8 1014.2 894.8 1014.5 892.9 1015.0 C891.0 1015.4 889.0 1015.8 887.1 1016.2 C885.2 1016.7 883.2 1017.1 881.3 1017.6 C879.4 1018.1 877.5 1018.6 875.5 1019.2 C873.6 1019.7 871.7 1020.2 869.8 1020.8 C867.9 1021.4 865.9 1022.0 864.0 1022.6 C862.1 1023.2 860.2 1023.8 858.3 1024.4 C856.4 1025.0 854.5 1025.7 852.5 1026.3 C850.6 1026.9 848.7 1027.6 846.8 1028.3 C844.9 1028.9 843.0 1029.6 841.1 1030.2 C839.2 1030.9 837.2 1031.6 835.3 1032.2 C833.4 1032.9 831.5 1033.6 829.6 1034.2 C827.7 1034.9 825.8 1035.6 823.8 1036.2 C821.9 1036.9 820.0 1037.5 818.1 1038.2 C816.1 1038.8 814.2 1039.4 812.3 1040.1 C810.4 1040.7 808.4 1041.3 806.5 1041.9 C804.6 1042.5 802.6 1043.1 800.7 1043.7 C798.8 1044.3 796.8 1044.8 794.9 1045.4 C793.0 1045.9 791.0 1046.5 789.1 1047.0 C787.1 1047.6 785.2 1048.1 783.2 1048.6 C781.3 1049.1 779.3 1049.6 777.4 1050.1 C775.4 1050.6 773.5 1051.1 771.5 1051.5 C769.6 1052.0 767.6 1052.4 765.7 1052.9 C763.7 1053.3 761.8 1053.7 759.8 1054.1 C757.9 1054.6 755.9 1055.0 753.9 1055.3 C752.0 1055.7 750.0 1056.1 748.1 1056.4 C746.1 1056.8 744.1 1057.1 742.2 1057.5 C740.2 1057.8 738.2 1058.1 736.3 1058.4 C734.3 1058.7 732.3 1059.0 730.4 1059.3 C728.4 1059.5 726.4 1059.8 724.5 1060.0 C722.5 1060.2 720.5 1060.5 718.6 1060.7 C716.6 1060.9 714.6 1061.1 712.6 1061.2 C710.7 1061.4 708.7 1061.5 706.7 1061.7 C704.8 1061.8 702.8 1061.9 700.8 1062.0 C698.8 1062.1 696.9 1062.2 694.9 1062.3 C692.9 1062.4 691.0 1062.4 689.0 1062.4 C687.0 1062.5 685.0 1062.5 683.1 1062.5 C681.1 1062.5 679.1 1062.4 677.1 1062.4 C675.2 1062.3 673.2 1062.3 671.2 1062.2 C669.3 1062.1 667.3 1062.0 665.3 1061.9 C663.3 1061.8 661.4 1061.6 659.4 1061.5 C657.4 1061.3 655.4 1061.1 653.5 1060.9 C651.5 1060.7 649.5 1060.5 647.6 1060.2 C645.6 1060.0 643.6 1059.7 641.7 1059.4 C639.7 1059.2 637.7 1058.8 635.8 1058.5 C633.8 1058.2 631.8 1057.8 629.9 1057.5 C627.9 1057.1 625.9 1056.7 624.0 1056.3 C622.0 1055.9 620.0 1055.5 618.1 1055.1 C616.1 1054.6 614.1 1054.2 612.2 1053.8 C610.2 1053.3 608.3 1052.8 606.3 1052.4 C604.3 1051.9 602.4 1051.4 600.4 1050.9 C598.4 1050.4 596.5 1049.9 594.5 1049.5 C592.6 1049.0 590.6 1048.5 588.6 1047.9 C586.7 1047.4 584.7 1046.9 582.7 1046.4 C580.8 1045.9 578.8 1045.4 576.9 1044.9 C574.9 1044.4 572.9 1043.9 571.0 1043.4 C569.0 1042.9 567.0 1042.4 565.1 1041.9 C563.1 1041.5 561.1 1041.0 559.2 1040.5 C557.2 1040.0 555.2 1039.6 553.3 1039.1 C551.3 1038.7 549.3 1038.3 547.4 1037.8 C545.4 1037.4 543.4 1037.0 541.4 1036.6 C539.5 1036.2 537.5 1035.8 535.5 1035.5 C533.6 1035.1 531.6 1034.8 529.6 1034.4 C527.6 1034.1 525.7 1033.8 523.7 1033.5 C521.7 1033.3 519.7 1033.0 517.7 1032.8 C515.8 1032.5 513.8 1032.3 511.8 1032.1 C509.8 1032.0 507.8 1031.8 505.8 1031.7 C503.8 1031.6 501.9 1031.5 499.9 1031.4 C497.9 1031.3 495.9 1031.2 493.9 1031.2 C491.9 1031.2 489.9 1031.2 487.9 1031.2 C485.9 1031.2 483.9 1031.2 481.9 1031.3 C479.9 1031.4 477.9 1031.4 475.9 1031.5 C473.9 1031.6 472.0 1031.7 470.0 1031.9 C468.0 1032.0 466.0 1032.2 464.0 1032.3 C462.0 1032.5 459.9 1032.7 457.9 1032.9 C455.9 1033.1 453.9 1033.3 451.9 1033.5 C449.9 1033.7 447.9 1033.9 445.9 1034.2 C443.9 1034.4 441.9 1034.7 439.9 1035.0 C437.9 1035.2 434.9 1035.7 433.9 1035.8 C434.0 1034.8 434.4 1031.6 434.8 1029.6 C435.1 1027.5 435.5 1025.5 436.0 1023.5 C436.4 1021.5 436.9 1019.6 437.5 1017.6 C438.1 1015.7 438.7 1013.8 439.4 1011.9 C440.0 1010.1 440.7 1008.2 441.5 1006.4 C442.3 1004.6 443.1 1002.8 443.9 1001.0 C444.8 999.3 445.7 997.5 446.6 995.8 C447.6 994.1 448.5 992.4 449.6 990.8 C450.6 989.1 451.7 987.5 452.8 985.8 C453.9 984.2 455.0 982.6 456.2 981.1 C457.4 979.5 458.6 978.0 459.8 976.5 C461.1 975.0 462.4 973.5 463.7 972.0 C465.0 970.5 466.3 969.1 467.7 967.7 C469.1 966.3 470.5 964.9 471.9 963.5 C473.3 962.1 474.8 960.7 476.3 959.4 C477.7 958.1 479.3 956.8 480.8 955.5 C482.3 954.2 483.9 952.9 485.4 951.7 C487.0 950.4 488.6 949.2 490.2 948.0 C491.8 946.7 493.4 945.5 495.0 944.4 C496.7 943.2 498.3 942.0 500.0 940.9 C501.6 939.8 503.3 938.7 505.0 937.5 C506.7 936.4 508.4 935.4 510.1 934.3 C511.8 933.2 513.5 932.2 515.3 931.1 C517.0 930.1 518.7 929.1 520.4 928.1 C522.2 927.1 523.9 926.1 525.7 925.1 C527.5 924.2 529.2 923.2 531.0 922.3 C532.8 921.3 534.5 920.4 536.3 919.5 C538.1 918.6 539.9 917.7 541.7 916.8 C543.5 915.9 545.3 915.1 547.2 914.2 C549.0 913.4 550.8 912.5 552.6 911.7 C554.5 910.9 556.3 910.1 558.1 909.3 C560.0 908.5 561.8 907.7 563.7 906.9 C565.5 906.1 567.4 905.4 569.3 904.6 C571.1 903.9 573.0 903.2 574.9 902.4 C576.8 901.7 578.7 901.0 580.5 900.3 C582.4 899.6 584.3 898.9 586.2 898.2 C588.1 897.5 590.0 896.9 591.9 896.2 C593.8 895.5 595.8 894.9 597.7 894.2 C599.6 893.6 601.5 893.0 603.4 892.4 C605.4 891.7 607.3 891.1 609.2 890.5 C611.2 889.9 613.1 889.3 615.0 888.7 C617.0 888.1 618.9 887.6 620.9 887.0 C622.8 886.4 624.8 885.9 626.7 885.3 C628.7 884.7 630.6 884.2 632.6 883.7 C634.5 883.1 636.5 882.6 638.4 882.1 C640.4 881.5 642.4 881.0 644.3 880.5 C646.3 880.0 648.3 879.5 650.2 879.0 C652.2 878.5 654.2 878.0 656.1 877.5 C658.1 877.0 660.1 876.5 662.0 876.0 C664.0 875.5 666.0 875.0 668.0 874.6 C669.9 874.1 671.9 873.6 673.9 873.1 C675.9 872.7 677.8 872.2 679.8 871.8 C681.8 871.3 683.8 870.8 685.7 870.4 C687.7 869.9 689.7 869.5 691.7 869.0 C693.6 868.6 695.6 868.1 697.6 867.7 C699.5 867.2 701.5 866.8 703.5 866.4 C705.5 865.9 707.4 865.5 709.4 865.0 C711.4 864.6 713.3 864.1 715.3 863.7 C717.2 863.3 719.2 862.8 721.2 862.4 C723.1 862.0 725.1 861.5 727.0 861.1 C729.0 860.6 730.9 860.2 732.9 859.8 C734.8 859.3 736.8 858.9 738.7 858.4 C740.7 858.0 742.6 857.6 744.6 857.1 C746.5 856.7 748.4 856.2 750.4 855.8 C752.3 855.3 754.2 854.9 756.1 854.4 C758.1 854.0 760.0 853.5 761.9 853.0 C763.8 852.6 765.7 852.1 767.6 851.7 C769.5 851.2 771.4 850.7 773.3 850.2 C775.2 849.8 778.1 849.0 779.0 848.8"/>
</g>
<g stroke="#000" stroke-width="7" fill="none" stroke-linecap="butt" shape-rendering="crispEdges">
<path d="M357.4 77.9 V1402.7"/>
<path stroke-width="7.6" d="M353.9 1398.9 H2038.8"/>
<path d="M357.4 81.4 h32.5"/>
<path d="M357.4 213.1 h16.5"/>
<path d="M357.4 344.9 h32.5"/>
<path d="M357.4 476.6 h16.5"/>
<path d="M357.4 608.3 h32.5"/>
<path d="M357.4 740.1 h16.5"/>
<path d="M357.4 871.8 h32.5"/>
<path d="M357.4 1003.5 h16.5"/>
<path d="M357.4 1135.3 h32.5"/>
<path d="M357.4 1267.0 h16.5"/>
<path d="M497.7 1398.9 v-32.5"/>
<path d="M637.5 1398.9 v-15.6"/>
<path d="M777.3 1398.9 v-32.5"/>
<path d="M917.1 1398.9 v-15.6"/>
<path d="M1056.9 1398.9 v-32.5"/>
<path d="M1196.6 1398.9 v-15.6"/>
<path d="M1336.4 1398.9 v-32.5"/>
<path d="M1476.2 1398.9 v-15.6"/>
<path d="M1616.0 1398.9 v-32.5"/>
<path d="M1755.8 1398.9 v-15.6"/>
<path d="M1895.5 1398.9 v-32.5"/>
<path d="M2035.3 1398.9 v-15.6"/>
</g>
<text class="tick" x="324" y="110.3" text-anchor="end">6.0</text>
<text class="tick" x="324" y="373.8" text-anchor="end">4.0</text>
<text class="tick" x="324" y="637.2" text-anchor="end">2.0</text>
<text class="tick" x="324" y="900.7" text-anchor="end">0.0</text>
<text class="tick" x="324" y="1164.2" text-anchor="end">-2.0</text>
<text class="tick" x="324" y="1427.6" text-anchor="end">-4.0</text>
<text class="tick" x="499.2" y="1508" text-anchor="middle">-0.2</text>
<text class="tick" x="778.8" y="1508" text-anchor="middle">0.0</text>
<text class="tick" x="1058.4" y="1508" text-anchor="middle">0.2</text>
<text class="tick" x="1337.9" y="1508" text-anchor="middle">0.4</text>
<text class="tick" x="1617.5" y="1508" text-anchor="middle">0.6</text>
<text class="tick" x="1897.0" y="1508" text-anchor="middle">0.8</text>

<text class="title" x="1197" y="1633" text-anchor="middle"><tspan font-style="italic">E</tspan> / V</text>
<text class="title" transform="translate(118 699) rotate(-90)" text-anchor="middle"><tspan font-style="italic">I</tspan> / mA</text>
<text class="lab" x="1803.5" y="934.5" style="fill:#000">1</text>
<text class="lab" x="1585" y="409.2" style="fill:#ff0000">2</text>
<text class="lab" x="1919" y="682.3" style="fill:#0000ff">3</text>

</svg>
</body>
</html>
